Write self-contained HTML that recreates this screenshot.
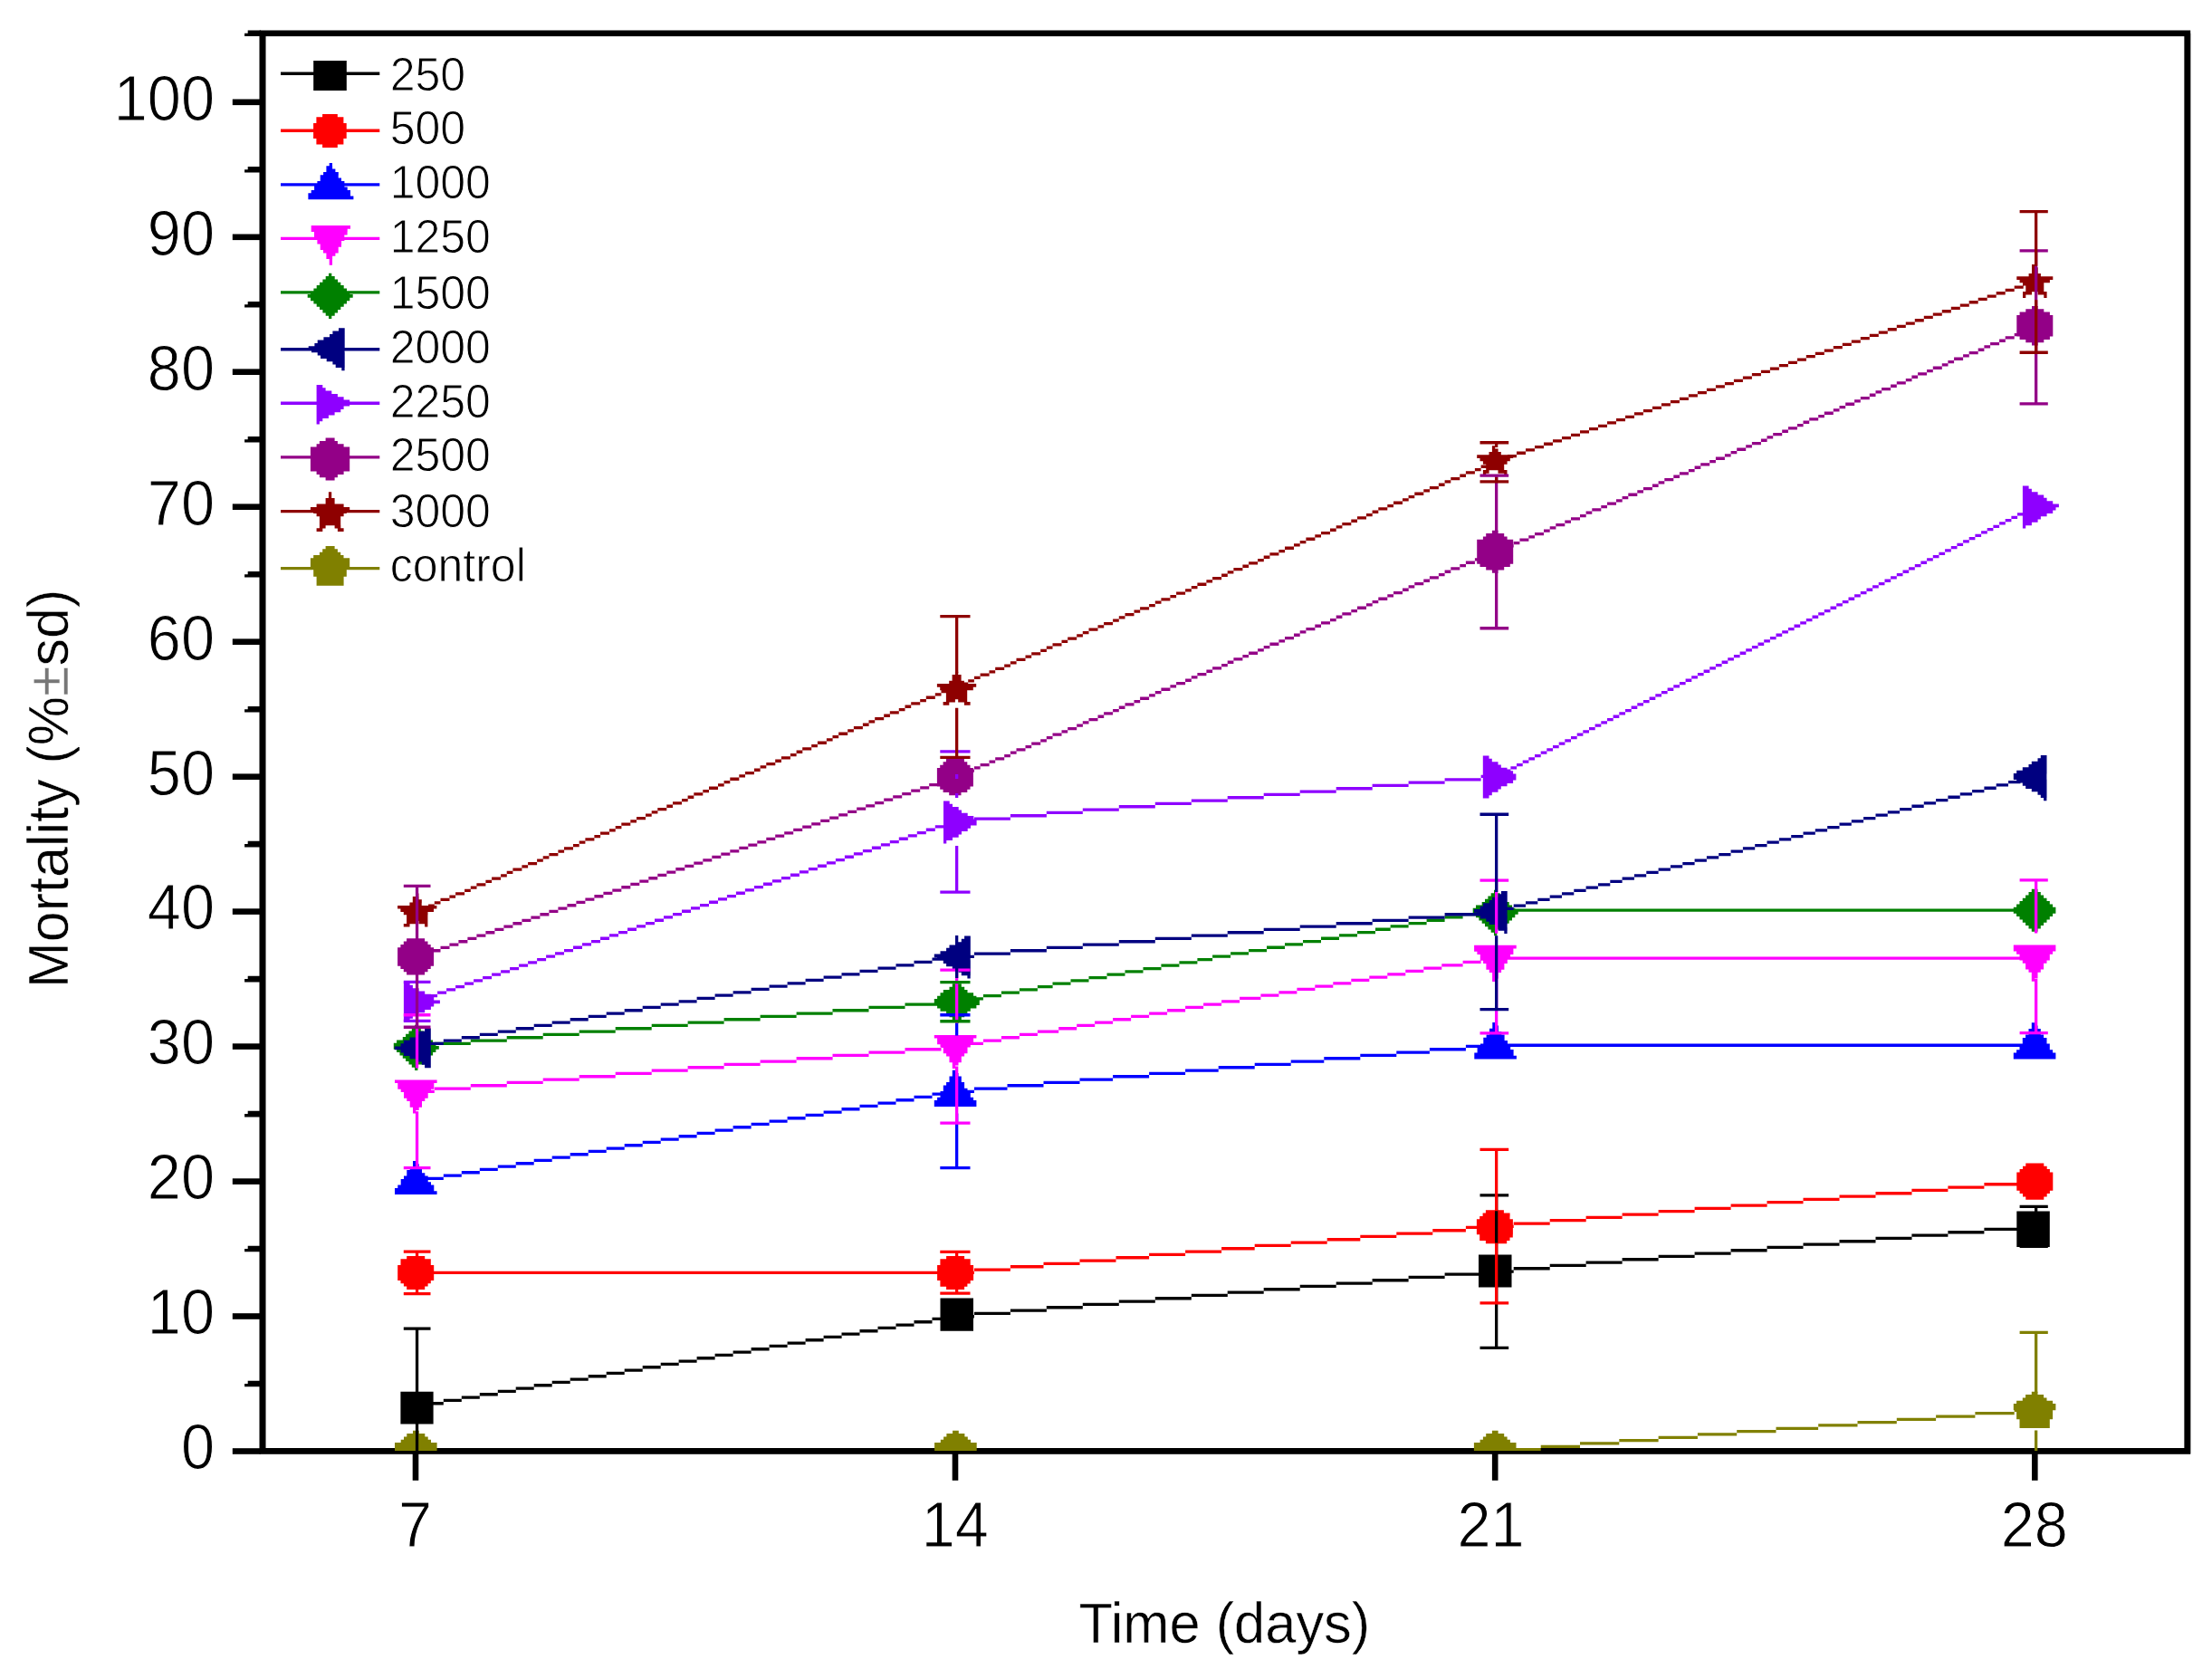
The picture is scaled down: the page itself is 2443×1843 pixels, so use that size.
<!DOCTYPE html><html><head><meta charset="utf-8"><title>Mortality chart</title><style>html,body{margin:0;padding:0;background:#fff}body{width:2443px;height:1843px;overflow:hidden}</style></head><body><svg width="2443" height="1843" viewBox="0 0 2443 1843" style="display:block" font-family="'Liberation Sans', Arial, sans-serif" fill="#000">
<rect width="2443" height="1843" fill="#fff"/>
<defs><clipPath id="pc"><rect x="290.0" y="36.8" width="2125.9" height="1565.5"/></clipPath></defs>
<g id="axes">
<rect x="290.0" y="36.8" width="2125.9" height="1565.5" fill="none" stroke="#000" stroke-width="6.6"/>
<rect x="256.8" y="1599.2" width="31" height="6.6"/>
<rect x="256.8" y="1450.2" width="31" height="6.6"/>
<rect x="256.8" y="1301.3" width="31" height="6.6"/>
<rect x="256.8" y="1152.3" width="31" height="6.6"/>
<rect x="256.8" y="1003.3" width="31" height="6.6"/>
<rect x="256.8" y="854.4" width="31" height="6.6"/>
<rect x="256.8" y="705.4" width="31" height="6.6"/>
<rect x="256.8" y="556.4" width="31" height="6.6"/>
<rect x="256.8" y="407.4" width="31" height="6.6"/>
<rect x="256.8" y="258.5" width="31" height="6.6"/>
<rect x="256.8" y="109.5" width="31" height="6.6"/>
<path d="M270.1 1531.3h18v-6.6h-14.4v3.3h-3.6z"/>
<path d="M270.1 1382.3h18v-6.6h-14.4v3.3h-3.6z"/>
<path d="M270.1 1233.4h18v-6.6h-14.4v3.3h-3.6z"/>
<path d="M270.1 1084.4h18v-6.6h-14.4v3.3h-3.6z"/>
<path d="M270.1 935.4h18v-6.6h-14.4v3.3h-3.6z"/>
<path d="M270.1 786.5h18v-6.6h-14.4v3.3h-3.6z"/>
<path d="M270.1 637.5h18v-6.6h-14.4v3.3h-3.6z"/>
<path d="M270.1 488.5h18v-6.6h-14.4v3.3h-3.6z"/>
<path d="M270.1 339.6h18v-6.6h-14.4v3.3h-3.6z"/>
<path d="M270.1 190.6h18v-6.6h-14.4v3.3h-3.6z"/>
<path d="M270.1 40.1h18v-6.6h-14.4v3.3h-3.6z"/>
<rect x="455.7" y="1604" width="6.6" height="30.8"/>
<rect x="1051.7" y="1604" width="6.6" height="30.8"/>
<rect x="1647.9" y="1604" width="6.6" height="30.8"/>
<rect x="2244.0" y="1604" width="6.6" height="30.8"/>
</g>
<g id="plot" clip-path="url(#pc)">
<path fill="#000000" d="M459.8 1551.4h10.0v3.3h-10.0zM469.8 1548.1h20.0v3.3h-20.0zM489.8 1544.8h20.0v3.3h-20.0zM509.8 1541.4h20.0v3.3h-20.0zM529.8 1538.1h20.0v3.3h-20.0zM549.8 1534.8h20.0v3.3h-20.0zM569.7 1531.4h20.0v3.3h-20.0zM589.7 1528.1h20.0v3.3h-20.0zM609.7 1524.8h20.0v3.3h-20.0zM629.7 1521.4h20.0v3.3h-20.0zM649.7 1518.1h20.0v3.3h-20.0zM669.7 1514.8h20.0v3.3h-20.0zM689.7 1511.4h20.0v3.3h-20.0zM709.7 1508.1h20.0v3.3h-20.0zM729.7 1504.8h20.0v3.3h-20.0zM749.6 1501.5h20.0v3.3h-20.0zM769.6 1498.1h20.0v3.3h-20.0zM789.6 1494.8h20.0v3.3h-20.0zM809.6 1491.5h20.0v3.3h-20.0zM829.6 1488.1h20.0v3.3h-20.0zM849.6 1484.8h20.0v3.3h-20.0zM869.6 1481.5h20.0v3.3h-20.0zM889.6 1478.1h20.0v3.3h-20.0zM909.6 1474.8h20.0v3.3h-20.0zM929.5 1471.5h20.0v3.3h-20.0zM949.5 1468.1h20.0v3.3h-20.0zM969.5 1464.8h20.0v3.3h-20.0zM989.5 1461.5h20.0v3.3h-20.0zM1009.5 1458.1h20.0v3.3h-20.0zM1029.5 1454.8h20.0v3.3h-20.0zM1049.5 1451.5h6.7v3.3h-6.7zM1055.9 1452.1h20.0v3.3h-20.0zM1075.9 1448.7h40.0v3.3h-40.0zM1115.9 1445.4h40.0v3.3h-40.0zM1155.8 1442.1h40.0v3.3h-40.0zM1195.8 1438.7h40.0v3.3h-40.0zM1235.8 1435.4h40.0v3.3h-40.0zM1275.8 1432.1h40.0v3.3h-40.0zM1315.8 1428.7h40.0v3.3h-40.0zM1355.7 1425.4h40.0v3.3h-40.0zM1395.7 1422.1h40.0v3.3h-40.0zM1435.7 1418.7h40.0v3.3h-40.0zM1475.7 1415.4h40.0v3.3h-40.0zM1515.6 1412.1h40.0v3.3h-40.0zM1555.6 1408.8h40.0v3.3h-40.0zM1595.6 1405.4h40.0v3.3h-40.0zM1635.6 1402.1h16.7v3.3h-16.7zM1651.7 1402.5h20.0v3.3h-20.0zM1671.7 1399.1h40.0v3.3h-40.0zM1711.7 1395.8h40.0v3.3h-40.0zM1751.6 1392.5h40.0v3.3h-40.0zM1791.6 1389.1h40.0v3.3h-40.0zM1831.6 1385.8h40.0v3.3h-40.0zM1871.6 1382.5h40.0v3.3h-40.0zM1911.6 1379.1h40.0v3.3h-40.0zM1951.5 1375.8h40.0v3.3h-40.0zM1991.5 1372.5h40.0v3.3h-40.0zM2031.5 1369.1h40.0v3.3h-40.0zM2071.5 1365.8h40.0v3.3h-40.0zM2111.4 1362.5h40.0v3.3h-40.0zM2151.4 1359.1h40.0v3.3h-40.0zM2191.4 1355.8h40.0v3.3h-40.0zM2231.4 1352.5h16.7v3.3h-16.7zM442.4 1536.7h36.2v35.8h-36.2zM1038.5 1433.4h36.5v36.3h-36.5zM1633.0 1385.5h36.5v36.0h-36.5zM2227.3 1337.5h36.5v39.5h-36.5z"/>
<path fill="#ff0000" d="M459.8 1403.8h596.3v3.3h-596.3zM1055.9 1403.8h20.0v3.3h-20.0zM1075.9 1400.4h40.0v3.3h-40.0zM1115.9 1397.1h36.6v3.3h-36.6zM1152.5 1393.8h40.0v3.3h-40.0zM1192.5 1390.4h40.0v3.3h-40.0zM1232.5 1387.1h36.6v3.3h-36.6zM1269.1 1383.8h40.0v3.3h-40.0zM1309.1 1380.4h40.0v3.3h-40.0zM1349.1 1377.1h36.6v3.3h-36.6zM1385.7 1373.8h40.0v3.3h-40.0zM1425.7 1370.4h40.0v3.3h-40.0zM1465.7 1367.1h36.6v3.3h-36.6zM1502.3 1363.8h40.0v3.3h-40.0zM1542.3 1360.4h40.0v3.3h-40.0zM1582.3 1357.1h36.6v3.3h-36.6zM1618.9 1353.8h33.3v3.3h-33.3zM1651.7 1352.7h20.0v3.3h-20.0zM1671.7 1349.4h40.0v3.3h-40.0zM1711.7 1346.0h40.0v3.3h-40.0zM1751.6 1342.7h40.0v3.3h-40.0zM1791.6 1339.4h40.0v3.3h-40.0zM1831.6 1336.0h40.0v3.3h-40.0zM1871.6 1332.7h40.0v3.3h-40.0zM1911.6 1329.4h40.0v3.3h-40.0zM1951.5 1326.0h40.0v3.3h-40.0zM1991.5 1322.7h40.0v3.3h-40.0zM2031.5 1319.4h40.0v3.3h-40.0zM2071.5 1316.1h40.0v3.3h-40.0zM2111.4 1312.7h40.0v3.3h-40.0zM2151.4 1309.4h40.0v3.3h-40.0zM2191.4 1306.1h40.0v3.3h-40.0zM2231.4 1302.7h16.7v3.3h-16.7zM449.2 1386.9h20.0v3.7h-20.0zM442.5 1390.2h33.3v3.7h-33.3zM442.5 1393.6h33.3v3.7h-33.3zM439.2 1396.9h40.0v3.7h-40.0zM439.2 1400.2h40.0v3.7h-40.0zM439.2 1403.6h40.0v3.7h-40.0zM439.2 1406.9h40.0v3.7h-40.0zM439.2 1410.2h40.0v3.7h-40.0zM442.5 1413.6h33.3v3.7h-33.3zM445.9 1416.9h26.7v3.7h-26.7zM449.2 1420.2h20.0v3.7h-20.0zM1045.1 1387.0h20.0v3.7h-20.0zM1038.4 1390.3h33.3v3.7h-33.3zM1038.4 1393.7h33.3v3.7h-33.3zM1035.1 1397.0h40.0v3.7h-40.0zM1035.1 1400.3h40.0v3.7h-40.0zM1035.1 1403.7h40.0v3.7h-40.0zM1035.1 1407.0h40.0v3.7h-40.0zM1035.1 1410.3h40.0v3.7h-40.0zM1038.4 1413.7h33.3v3.7h-33.3zM1038.4 1417.0h30.0v3.7h-30.0zM1045.1 1420.3h20.0v3.7h-20.0zM1640.9 1336.2h20.0v3.7h-20.0zM1637.6 1339.5h30.0v3.7h-30.0zM1634.2 1342.9h33.3v3.7h-33.3zM1630.9 1346.2h40.0v3.7h-40.0zM1630.9 1349.5h40.0v3.7h-40.0zM1630.9 1352.9h40.0v3.7h-40.0zM1630.9 1356.2h40.0v3.7h-40.0zM1630.9 1359.5h40.0v3.7h-40.0zM1634.2 1362.9h36.6v3.7h-36.6zM1634.2 1366.2h33.3v3.7h-33.3zM1640.9 1369.5h23.3v3.7h-23.3zM2237.3 1284.4h20.0v3.7h-20.0zM2234.0 1287.7h26.7v3.7h-26.7zM2230.6 1291.1h33.3v3.7h-33.3zM2227.3 1294.4h40.0v3.7h-40.0zM2227.3 1297.7h40.0v3.7h-40.0zM2227.3 1301.1h40.0v3.7h-40.0zM2227.3 1304.4h40.0v3.7h-40.0zM2227.3 1307.7h40.0v3.7h-40.0zM2227.3 1311.1h40.0v3.7h-40.0zM2230.6 1314.4h33.3v3.7h-33.3zM2234.0 1317.7h26.7v3.7h-26.7zM2237.3 1321.0h20.0v3.7h-20.0z"/>
<path fill="#0000ff" d="M459.8 1303.1h10.0v3.3h-10.0zM469.8 1299.8h20.0v3.3h-20.0zM489.8 1296.4h20.0v3.3h-20.0zM509.8 1293.1h20.0v3.3h-20.0zM529.8 1289.8h20.0v3.3h-20.0zM549.8 1286.4h20.0v3.3h-20.0zM569.7 1283.1h20.0v3.3h-20.0zM589.7 1279.8h20.0v3.3h-20.0zM609.7 1276.4h20.0v3.3h-20.0zM629.7 1273.1h20.0v3.3h-20.0zM649.7 1269.8h20.0v3.3h-20.0zM669.7 1266.4h20.0v3.3h-20.0zM689.7 1263.1h20.0v3.3h-20.0zM709.7 1259.8h20.0v3.3h-20.0zM729.7 1256.5h20.0v3.3h-20.0zM749.6 1253.1h20.0v3.3h-20.0zM769.6 1249.8h20.0v3.3h-20.0zM789.6 1246.5h20.0v3.3h-20.0zM809.6 1243.1h20.0v3.3h-20.0zM829.6 1239.8h20.0v3.3h-20.0zM849.6 1236.5h20.0v3.3h-20.0zM869.6 1233.1h20.0v3.3h-20.0zM889.6 1229.8h20.0v3.3h-20.0zM909.6 1226.5h20.0v3.3h-20.0zM929.5 1223.1h20.0v3.3h-20.0zM949.5 1219.8h20.0v3.3h-20.0zM969.5 1216.5h20.0v3.3h-20.0zM989.5 1213.1h20.0v3.3h-20.0zM1009.5 1209.8h20.0v3.3h-20.0zM1029.5 1206.5h20.0v3.3h-20.0zM1049.5 1203.1h6.7v3.3h-6.7zM1055.9 1203.7h20.0v3.3h-20.0zM1075.9 1200.4h36.6v3.3h-36.6zM1112.5 1197.1h40.0v3.3h-40.0zM1152.5 1193.7h40.0v3.3h-40.0zM1192.5 1190.4h36.6v3.3h-36.6zM1229.1 1187.1h40.0v3.3h-40.0zM1269.1 1183.7h40.0v3.3h-40.0zM1309.1 1180.4h36.6v3.3h-36.6zM1345.7 1177.1h40.0v3.3h-40.0zM1385.7 1173.7h40.0v3.3h-40.0zM1425.7 1170.4h36.6v3.3h-36.6zM1462.3 1167.1h40.0v3.3h-40.0zM1502.3 1163.8h40.0v3.3h-40.0zM1542.3 1160.4h36.6v3.3h-36.6zM1578.9 1157.1h40.0v3.3h-40.0zM1618.9 1153.8h33.3v3.3h-33.3zM1651.7 1152.6h596.3v3.3h-596.3zM456.0 1281.9h3.3v3.7h-3.3zM456.0 1285.2h6.7v3.7h-6.7zM452.7 1288.6h13.3v3.7h-13.3zM449.3 1291.9h16.7v3.7h-16.7zM449.3 1295.2h20.0v3.7h-20.0zM446.0 1298.6h26.7v3.7h-26.7zM442.7 1301.9h30.0v3.7h-30.0zM442.7 1305.2h33.3v3.7h-33.3zM439.3 1308.6h40.0v3.7h-40.0zM436.0 1311.9h43.3v3.7h-43.3zM436.0 1315.2h46.6v3.7h-46.6zM1051.8 1181.7h3.3v3.7h-3.3zM1051.8 1185.0h6.7v3.7h-6.7zM1048.5 1188.4h13.3v3.7h-13.3zM1048.5 1191.7h13.3v3.7h-13.3zM1045.1 1195.0h20.0v3.7h-20.0zM1041.8 1198.4h23.3v3.7h-23.3zM1041.8 1201.7h26.7v3.7h-26.7zM1038.5 1205.0h33.3v3.7h-33.3zM1038.5 1208.4h33.3v3.7h-33.3zM1035.1 1211.7h40.0v3.7h-40.0zM1031.8 1215.0h46.6v3.7h-46.6zM1031.8 1218.3h46.6v3.7h-46.6zM1648.3 1129.1h3.3v3.7h-3.3zM1648.3 1132.4h6.7v3.7h-6.7zM1645.0 1135.8h10.0v3.7h-10.0zM1645.0 1139.1h13.3v3.7h-13.3zM1641.6 1142.4h20.0v3.7h-20.0zM1638.3 1145.8h23.3v3.7h-23.3zM1638.3 1149.1h26.7v3.7h-26.7zM1635.0 1152.4h33.3v3.7h-33.3zM1631.6 1155.8h36.6v3.7h-36.6zM1631.6 1159.1h40.0v3.7h-40.0zM1628.3 1162.4h43.3v3.7h-43.3zM1628.3 1165.7h46.6v3.7h-46.6zM2243.8 1129.2h3.3v3.7h-3.3zM2243.8 1132.5h6.7v3.7h-6.7zM2240.5 1135.9h13.3v3.7h-13.3zM2240.5 1139.2h13.3v3.7h-13.3zM2237.1 1142.5h20.0v3.7h-20.0zM2233.8 1145.9h26.7v3.7h-26.7zM2233.8 1149.2h26.7v3.7h-26.7zM2230.5 1152.5h33.3v3.7h-33.3zM2230.5 1155.9h33.3v3.7h-33.3zM2227.1 1159.2h40.0v3.7h-40.0zM2223.8 1162.5h46.6v3.7h-46.6zM2223.8 1165.8h46.6v3.7h-46.6z"/>
<path fill="#ff00ff" d="M459.8 1203.7h20.0v3.3h-20.0zM479.8 1200.4h40.0v3.3h-40.0zM519.8 1197.1h40.0v3.3h-40.0zM559.7 1193.7h40.0v3.3h-40.0zM599.7 1190.4h40.0v3.3h-40.0zM639.7 1187.1h40.0v3.3h-40.0zM679.7 1183.7h40.0v3.3h-40.0zM719.7 1180.4h40.0v3.3h-40.0zM759.6 1177.1h40.0v3.3h-40.0zM799.6 1173.7h40.0v3.3h-40.0zM839.6 1170.4h40.0v3.3h-40.0zM879.6 1167.1h40.0v3.3h-40.0zM919.5 1163.8h40.0v3.3h-40.0zM959.5 1160.4h40.0v3.3h-40.0zM999.5 1157.1h40.0v3.3h-40.0zM1039.5 1153.8h16.7v3.3h-16.7zM1055.9 1154.1h10.0v3.3h-10.0zM1065.9 1150.8h20.0v3.3h-20.0zM1085.9 1147.5h20.0v3.3h-20.0zM1105.9 1144.1h20.0v3.3h-20.0zM1125.9 1140.8h20.0v3.3h-20.0zM1145.9 1137.5h23.3v3.3h-23.3zM1169.2 1134.1h20.0v3.3h-20.0zM1189.2 1130.8h20.0v3.3h-20.0zM1209.1 1127.5h20.0v3.3h-20.0zM1229.1 1124.1h20.0v3.3h-20.0zM1249.1 1120.8h20.0v3.3h-20.0zM1269.1 1117.5h20.0v3.3h-20.0zM1289.1 1114.1h20.0v3.3h-20.0zM1309.1 1110.8h20.0v3.3h-20.0zM1329.1 1107.5h20.0v3.3h-20.0zM1349.1 1104.2h20.0v3.3h-20.0zM1369.1 1100.8h23.3v3.3h-23.3zM1392.4 1097.5h20.0v3.3h-20.0zM1412.4 1094.2h20.0v3.3h-20.0zM1432.4 1090.8h20.0v3.3h-20.0zM1452.3 1087.5h20.0v3.3h-20.0zM1472.3 1084.2h20.0v3.3h-20.0zM1492.3 1080.8h20.0v3.3h-20.0zM1512.3 1077.5h20.0v3.3h-20.0zM1532.3 1074.2h20.0v3.3h-20.0zM1552.3 1070.8h20.0v3.3h-20.0zM1572.3 1067.5h20.0v3.3h-20.0zM1592.3 1064.2h23.3v3.3h-23.3zM1615.6 1060.8h20.0v3.3h-20.0zM1635.6 1057.5h16.7v3.3h-16.7zM1651.7 1056.4h596.3v3.3h-596.3zM436.0 1192.4h46.6v3.7h-46.6zM439.3 1195.7h40.0v3.7h-40.0zM439.3 1199.1h40.0v3.7h-40.0zM442.7 1202.4h33.3v3.7h-33.3zM446.0 1205.7h26.7v3.7h-26.7zM446.0 1209.1h26.7v3.7h-26.7zM449.3 1212.4h20.0v3.7h-20.0zM452.7 1215.7h13.3v3.7h-13.3zM452.7 1219.1h13.3v3.7h-13.3zM456.0 1222.4h6.7v3.7h-6.7zM456.0 1225.7h3.3v3.7h-3.3zM1031.8 1142.9h46.6v3.7h-46.6zM1035.1 1146.2h40.0v3.7h-40.0zM1035.1 1149.6h40.0v3.7h-40.0zM1038.5 1152.9h33.3v3.7h-33.3zM1041.8 1156.2h26.7v3.7h-26.7zM1041.8 1159.6h26.7v3.7h-26.7zM1045.1 1162.9h20.0v3.7h-20.0zM1048.5 1166.2h13.3v3.7h-13.3zM1048.5 1169.6h13.3v3.7h-13.3zM1051.8 1172.9h6.7v3.7h-6.7zM1051.8 1176.2h3.3v3.7h-3.3zM1628.1 1043.7h46.6v3.7h-46.6zM1628.1 1047.0h43.3v3.7h-43.3zM1631.4 1050.4h40.0v3.7h-40.0zM1634.8 1053.7h33.3v3.7h-33.3zM1634.8 1057.0h30.0v3.7h-30.0zM1638.1 1060.4h26.7v3.7h-26.7zM1641.4 1063.7h20.0v3.7h-20.0zM1641.4 1067.0h20.0v3.7h-20.0zM1644.8 1070.4h13.3v3.7h-13.3zM1648.1 1073.7h6.7v3.7h-6.7zM1648.1 1077.0h6.7v3.7h-6.7zM1648.1 1080.3h3.3v3.7h-3.3zM2223.8 1043.4h46.6v3.7h-46.6zM2223.8 1046.7h46.6v3.7h-46.6zM2227.1 1050.1h40.0v3.7h-40.0zM2230.5 1053.4h33.3v3.7h-33.3zM2230.5 1056.7h33.3v3.7h-33.3zM2233.8 1060.1h26.7v3.7h-26.7zM2237.1 1063.4h20.0v3.7h-20.0zM2237.1 1066.7h20.0v3.7h-20.0zM2240.5 1070.1h13.3v3.7h-13.3zM2243.8 1073.4h6.7v3.7h-6.7zM2243.8 1076.7h6.7v3.7h-6.7zM2243.8 1080.0h3.3v3.7h-3.3z"/>
<path fill="#008000" d="M459.8 1154.1h20.0v3.3h-20.0zM479.8 1150.8h40.0v3.3h-40.0zM519.8 1147.5h40.0v3.3h-40.0zM559.7 1144.1h40.0v3.3h-40.0zM599.7 1140.8h40.0v3.3h-40.0zM639.7 1137.5h40.0v3.3h-40.0zM679.7 1134.1h40.0v3.3h-40.0zM719.7 1130.8h40.0v3.3h-40.0zM759.6 1127.5h40.0v3.3h-40.0zM799.6 1124.1h40.0v3.3h-40.0zM839.6 1120.8h40.0v3.3h-40.0zM879.6 1117.5h40.0v3.3h-40.0zM919.5 1114.1h40.0v3.3h-40.0zM959.5 1110.8h40.0v3.3h-40.0zM999.5 1107.5h40.0v3.3h-40.0zM1039.5 1104.2h16.7v3.3h-16.7zM1055.9 1104.5h10.0v3.3h-10.0zM1065.9 1101.2h20.0v3.3h-20.0zM1085.9 1097.9h20.0v3.3h-20.0zM1105.9 1094.5h20.0v3.3h-20.0zM1125.9 1091.2h20.0v3.3h-20.0zM1145.9 1087.9h16.7v3.3h-16.7zM1162.5 1084.5h20.0v3.3h-20.0zM1182.5 1081.2h20.0v3.3h-20.0zM1202.5 1077.9h20.0v3.3h-20.0zM1222.5 1074.5h20.0v3.3h-20.0zM1242.5 1071.2h20.0v3.3h-20.0zM1262.5 1067.9h20.0v3.3h-20.0zM1282.4 1064.5h20.0v3.3h-20.0zM1302.4 1061.2h20.0v3.3h-20.0zM1322.4 1057.9h16.7v3.3h-16.7zM1339.1 1054.5h20.0v3.3h-20.0zM1359.1 1051.2h20.0v3.3h-20.0zM1379.1 1047.9h20.0v3.3h-20.0zM1399.0 1044.6h20.0v3.3h-20.0zM1419.0 1041.2h20.0v3.3h-20.0zM1439.0 1037.9h20.0v3.3h-20.0zM1459.0 1034.6h20.0v3.3h-20.0zM1479.0 1031.2h20.0v3.3h-20.0zM1499.0 1027.9h20.0v3.3h-20.0zM1519.0 1024.6h16.7v3.3h-16.7zM1535.6 1021.2h20.0v3.3h-20.0zM1555.6 1017.9h20.0v3.3h-20.0zM1575.6 1014.6h20.0v3.3h-20.0zM1595.6 1011.2h20.0v3.3h-20.0zM1615.6 1007.9h20.0v3.3h-20.0zM1635.6 1004.6h16.7v3.3h-16.7zM1651.7 1003.5h596.3v3.3h-596.3zM458.1 1131.8h3.3v3.7h-3.3zM454.8 1135.1h10.0v3.7h-10.0zM451.5 1138.5h16.7v3.7h-16.7zM448.1 1141.8h23.3v3.7h-23.3zM444.8 1145.1h30.0v3.7h-30.0zM438.1 1148.4h40.0v3.7h-40.0zM434.8 1151.8h46.6v3.7h-46.6zM434.8 1155.1h50.0v3.7h-50.0zM438.1 1158.4h43.3v3.7h-43.3zM441.5 1161.8h36.6v3.7h-36.6zM444.8 1165.1h30.0v3.7h-30.0zM448.1 1168.4h23.3v3.7h-23.3zM451.5 1171.8h16.7v3.7h-16.7zM454.8 1175.1h6.7v3.7h-6.7zM458.1 1178.4h3.3v3.7h-3.3zM1055.1 1083.0h3.3v3.7h-3.3zM1051.8 1086.3h10.0v3.7h-10.0zM1048.5 1089.7h16.7v3.7h-16.7zM1041.8 1093.0h26.7v3.7h-26.7zM1038.5 1096.3h36.6v3.7h-36.6zM1035.1 1099.7h43.3v3.7h-43.3zM1031.8 1103.0h50.0v3.7h-50.0zM1031.8 1106.3h50.0v3.7h-50.0zM1035.1 1109.7h43.3v3.7h-43.3zM1038.5 1113.0h33.3v3.7h-33.3zM1045.1 1116.3h23.3v3.7h-23.3zM1048.5 1119.6h16.7v3.7h-16.7zM1051.8 1123.0h10.0v3.7h-10.0zM1055.1 1126.3h3.3v3.7h-3.3zM1650.0 982.8h3.3v3.7h-3.3zM1646.7 986.2h10.0v3.7h-10.0zM1643.4 989.5h16.7v3.7h-16.7zM1640.0 992.8h23.3v3.7h-23.3zM1636.7 996.1h30.0v3.7h-30.0zM1630.0 999.5h40.0v3.7h-40.0zM1626.7 1002.8h46.6v3.7h-46.6zM1626.7 1006.1h50.0v3.7h-50.0zM1630.0 1009.5h43.3v3.7h-43.3zM1633.4 1012.8h36.6v3.7h-36.6zM1636.7 1016.1h30.0v3.7h-30.0zM1640.0 1019.5h23.3v3.7h-23.3zM1643.4 1022.8h16.7v3.7h-16.7zM1646.7 1026.1h6.7v3.7h-6.7zM1650.0 1029.5h3.3v3.7h-3.3zM2243.8 981.7h6.7v3.7h-6.7zM2240.5 985.0h13.3v3.7h-13.3zM2237.1 988.4h20.0v3.7h-20.0zM2233.8 991.7h26.7v3.7h-26.7zM2230.5 995.0h33.3v3.7h-33.3zM2227.1 998.4h40.0v3.7h-40.0zM2223.8 1001.7h46.6v3.7h-46.6zM2223.8 1005.0h46.6v3.7h-46.6zM2227.1 1008.4h40.0v3.7h-40.0zM2230.5 1011.7h33.3v3.7h-33.3zM2233.8 1015.0h26.7v3.7h-26.7zM2237.1 1018.3h20.0v3.7h-20.0zM2240.5 1021.7h13.3v3.7h-13.3zM2243.8 1025.0h6.7v3.7h-6.7z"/>
<path fill="#000080" d="M459.8 1154.1h10.0v3.3h-10.0zM469.8 1150.8h20.0v3.3h-20.0zM489.8 1147.5h20.0v3.3h-20.0zM509.8 1144.1h20.0v3.3h-20.0zM529.8 1140.8h20.0v3.3h-20.0zM549.8 1137.5h20.0v3.3h-20.0zM569.7 1134.1h20.0v3.3h-20.0zM589.7 1130.8h20.0v3.3h-20.0zM609.7 1127.5h20.0v3.3h-20.0zM629.7 1124.1h20.0v3.3h-20.0zM649.7 1120.8h20.0v3.3h-20.0zM669.7 1117.5h20.0v3.3h-20.0zM689.7 1114.1h20.0v3.3h-20.0zM709.7 1110.8h20.0v3.3h-20.0zM729.7 1107.5h20.0v3.3h-20.0zM749.6 1104.2h20.0v3.3h-20.0zM769.6 1100.8h20.0v3.3h-20.0zM789.6 1097.5h20.0v3.3h-20.0zM809.6 1094.2h20.0v3.3h-20.0zM829.6 1090.8h20.0v3.3h-20.0zM849.6 1087.5h20.0v3.3h-20.0zM869.6 1084.2h20.0v3.3h-20.0zM889.6 1080.8h20.0v3.3h-20.0zM909.6 1077.5h20.0v3.3h-20.0zM929.5 1074.2h20.0v3.3h-20.0zM949.5 1070.8h20.0v3.3h-20.0zM969.5 1067.5h20.0v3.3h-20.0zM989.5 1064.2h20.0v3.3h-20.0zM1009.5 1060.8h20.0v3.3h-20.0zM1029.5 1057.5h20.0v3.3h-20.0zM1049.5 1054.2h6.7v3.3h-6.7zM1055.9 1054.8h20.0v3.3h-20.0zM1075.9 1051.4h40.0v3.3h-40.0zM1115.9 1048.1h40.0v3.3h-40.0zM1155.8 1044.8h40.0v3.3h-40.0zM1195.8 1041.4h40.0v3.3h-40.0zM1235.8 1038.1h40.0v3.3h-40.0zM1275.8 1034.8h40.0v3.3h-40.0zM1315.8 1031.4h40.0v3.3h-40.0zM1355.7 1028.1h40.0v3.3h-40.0zM1395.7 1024.8h40.0v3.3h-40.0zM1435.7 1021.4h40.0v3.3h-40.0zM1475.7 1018.1h40.0v3.3h-40.0zM1515.6 1014.8h40.0v3.3h-40.0zM1555.6 1011.5h40.0v3.3h-40.0zM1595.6 1008.1h40.0v3.3h-40.0zM1635.6 1004.8h16.7v3.3h-16.7zM1651.7 1005.2h6.7v3.3h-6.7zM1658.4 1001.8h13.3v3.3h-13.3zM1671.7 998.5h13.3v3.3h-13.3zM1685.0 995.2h13.3v3.3h-13.3zM1698.3 991.8h13.3v3.3h-13.3zM1711.7 988.5h13.3v3.3h-13.3zM1725.0 985.2h13.3v3.3h-13.3zM1738.3 981.8h13.3v3.3h-13.3zM1751.6 978.5h13.3v3.3h-13.3zM1765.0 975.2h13.3v3.3h-13.3zM1778.3 971.8h13.3v3.3h-13.3zM1791.6 968.5h13.3v3.3h-13.3zM1804.9 965.2h13.3v3.3h-13.3zM1818.3 961.8h13.3v3.3h-13.3zM1831.6 958.5h13.3v3.3h-13.3zM1844.9 955.2h13.3v3.3h-13.3zM1858.3 951.9h13.3v3.3h-13.3zM1871.6 948.5h13.3v3.3h-13.3zM1884.9 945.2h13.3v3.3h-13.3zM1898.2 941.9h13.3v3.3h-13.3zM1911.6 938.5h13.3v3.3h-13.3zM1924.9 935.2h13.3v3.3h-13.3zM1938.2 931.9h13.3v3.3h-13.3zM1951.5 928.5h13.3v3.3h-13.3zM1964.9 925.2h13.3v3.3h-13.3zM1978.2 921.9h13.3v3.3h-13.3zM1991.5 918.5h13.3v3.3h-13.3zM2004.8 915.2h13.3v3.3h-13.3zM2018.2 911.9h13.3v3.3h-13.3zM2031.5 908.5h13.3v3.3h-13.3zM2044.8 905.2h13.3v3.3h-13.3zM2058.1 901.9h13.3v3.3h-13.3zM2071.5 898.5h13.3v3.3h-13.3zM2084.8 895.2h13.3v3.3h-13.3zM2098.1 891.9h13.3v3.3h-13.3zM2111.4 888.6h13.3v3.3h-13.3zM2124.8 885.2h13.3v3.3h-13.3zM2138.1 881.9h13.3v3.3h-13.3zM2151.4 878.6h13.3v3.3h-13.3zM2164.8 875.2h13.3v3.3h-13.3zM2178.1 871.9h13.3v3.3h-13.3zM2191.4 868.6h13.3v3.3h-13.3zM2204.7 865.2h13.3v3.3h-13.3zM2218.1 861.9h13.3v3.3h-13.3zM2231.4 858.6h13.3v3.3h-13.3zM2244.7 855.2h3.3v3.3h-3.3zM469.1 1135.5h6.7v3.7h-6.7zM462.5 1138.8h13.3v3.7h-13.3zM459.1 1142.2h16.7v3.7h-16.7zM452.5 1145.5h23.3v3.7h-23.3zM445.8 1148.8h30.0v3.7h-30.0zM442.5 1152.2h33.3v3.7h-33.3zM435.8 1155.5h40.0v3.7h-40.0zM442.5 1158.8h33.3v3.7h-33.3zM445.8 1162.2h30.0v3.7h-30.0zM452.5 1165.5h23.3v3.7h-23.3zM459.1 1168.8h16.7v3.7h-16.7zM465.8 1172.1h10.0v3.7h-10.0zM469.1 1175.5h6.7v3.7h-6.7zM1065.1 1033.5h6.7v3.7h-6.7zM1061.8 1036.8h10.0v3.7h-10.0zM1055.1 1040.2h16.7v3.7h-16.7zM1048.5 1043.5h23.3v3.7h-23.3zM1045.1 1046.8h26.7v3.7h-26.7zM1038.5 1050.2h33.3v3.7h-33.3zM1031.8 1053.5h40.0v3.7h-40.0zM1035.1 1056.8h36.6v3.7h-36.6zM1041.8 1060.2h30.0v3.7h-30.0zM1045.1 1063.5h26.7v3.7h-26.7zM1051.8 1066.8h20.0v3.7h-20.0zM1058.5 1070.1h13.3v3.7h-13.3zM1061.8 1073.5h10.0v3.7h-10.0zM1068.4 1076.8h3.3v3.7h-3.3zM1658.0 984.0h6.7v3.7h-6.7zM1654.7 987.3h10.0v3.7h-10.0zM1648.0 990.7h16.7v3.7h-16.7zM1644.7 994.0h20.0v3.7h-20.0zM1638.0 997.3h26.7v3.7h-26.7zM1634.7 1000.7h30.0v3.7h-30.0zM1628.0 1004.0h36.6v3.7h-36.6zM1631.3 1007.3h33.3v3.7h-33.3zM1634.7 1010.7h30.0v3.7h-30.0zM1641.3 1014.0h23.3v3.7h-23.3zM1644.7 1017.3h20.0v3.7h-20.0zM1651.3 1020.6h13.3v3.7h-13.3zM1654.7 1024.0h10.0v3.7h-10.0zM1661.3 1027.3h3.3v3.7h-3.3zM2253.8 834.0h6.7v3.7h-6.7zM2250.5 837.3h10.0v3.7h-10.0zM2243.8 840.7h16.7v3.7h-16.7zM2240.5 844.0h20.0v3.7h-20.0zM2233.8 847.3h26.7v3.7h-26.7zM2227.2 850.7h33.3v3.7h-33.3zM2223.8 854.0h36.6v3.7h-36.6zM2223.8 857.3h36.6v3.7h-36.6zM2227.2 860.7h33.3v3.7h-33.3zM2233.8 864.0h26.7v3.7h-26.7zM2237.2 867.3h23.3v3.7h-23.3zM2243.8 870.6h16.7v3.7h-16.7zM2250.5 874.0h10.0v3.7h-10.0zM2253.8 877.3h6.7v3.7h-6.7zM2257.1 880.6h3.3v3.7h-3.3z"/>
<path fill="#8e00ff" d="M459.8 1104.5h3.3v3.3h-3.3zM463.1 1101.2h10.0v3.3h-10.0zM473.1 1097.9h10.0v3.3h-10.0zM483.1 1094.5h10.0v3.3h-10.0zM493.1 1091.2h10.0v3.3h-10.0zM503.1 1087.9h10.0v3.3h-10.0zM513.1 1084.5h10.0v3.3h-10.0zM523.1 1081.2h10.0v3.3h-10.0zM533.1 1077.9h10.0v3.3h-10.0zM543.1 1074.5h10.0v3.3h-10.0zM553.1 1071.2h10.0v3.3h-10.0zM563.1 1067.9h10.0v3.3h-10.0zM573.1 1064.5h10.0v3.3h-10.0zM583.1 1061.2h10.0v3.3h-10.0zM593.1 1057.9h10.0v3.3h-10.0zM603.1 1054.5h10.0v3.3h-10.0zM613.0 1051.2h10.0v3.3h-10.0zM623.0 1047.9h10.0v3.3h-10.0zM633.0 1044.6h10.0v3.3h-10.0zM643.0 1041.2h10.0v3.3h-10.0zM653.0 1037.9h10.0v3.3h-10.0zM663.0 1034.6h10.0v3.3h-10.0zM673.0 1031.2h10.0v3.3h-10.0zM683.0 1027.9h10.0v3.3h-10.0zM693.0 1024.6h10.0v3.3h-10.0zM703.0 1021.2h10.0v3.3h-10.0zM713.0 1017.9h10.0v3.3h-10.0zM723.0 1014.6h10.0v3.3h-10.0zM733.0 1011.2h10.0v3.3h-10.0zM743.0 1007.9h10.0v3.3h-10.0zM753.0 1004.6h10.0v3.3h-10.0zM763.0 1001.2h10.0v3.3h-10.0zM773.0 997.9h10.0v3.3h-10.0zM783.0 994.6h10.0v3.3h-10.0zM793.0 991.2h10.0v3.3h-10.0zM802.9 987.9h10.0v3.3h-10.0zM812.9 984.6h10.0v3.3h-10.0zM822.9 981.3h10.0v3.3h-10.0zM832.9 977.9h10.0v3.3h-10.0zM842.9 974.6h10.0v3.3h-10.0zM852.9 971.3h10.0v3.3h-10.0zM862.9 967.9h10.0v3.3h-10.0zM872.9 964.6h10.0v3.3h-10.0zM882.9 961.3h10.0v3.3h-10.0zM892.9 957.9h10.0v3.3h-10.0zM902.9 954.6h10.0v3.3h-10.0zM912.9 951.3h10.0v3.3h-10.0zM922.9 947.9h10.0v3.3h-10.0zM932.9 944.6h10.0v3.3h-10.0zM942.9 941.3h10.0v3.3h-10.0zM952.9 937.9h10.0v3.3h-10.0zM962.9 934.6h10.0v3.3h-10.0zM972.9 931.3h10.0v3.3h-10.0zM982.8 927.9h10.0v3.3h-10.0zM992.8 924.6h10.0v3.3h-10.0zM1002.8 921.3h10.0v3.3h-10.0zM1012.8 918.0h10.0v3.3h-10.0zM1022.8 914.6h10.0v3.3h-10.0zM1032.8 911.3h10.0v3.3h-10.0zM1042.8 908.0h10.0v3.3h-10.0zM1052.8 904.6h3.3v3.3h-3.3zM1055.9 905.8h20.0v3.3h-20.0zM1075.9 902.5h40.0v3.3h-40.0zM1115.9 899.1h40.0v3.3h-40.0zM1155.8 895.8h40.0v3.3h-40.0zM1195.8 892.5h40.0v3.3h-40.0zM1235.8 889.1h40.0v3.3h-40.0zM1275.8 885.8h40.0v3.3h-40.0zM1315.8 882.5h40.0v3.3h-40.0zM1355.7 879.1h40.0v3.3h-40.0zM1395.7 875.8h40.0v3.3h-40.0zM1435.7 872.5h40.0v3.3h-40.0zM1475.7 869.1h40.0v3.3h-40.0zM1515.6 865.8h40.0v3.3h-40.0zM1555.6 862.5h40.0v3.3h-40.0zM1595.6 859.2h40.0v3.3h-40.0zM1635.6 855.8h16.7v3.3h-16.7zM1651.7 856.2h3.3v3.3h-3.3zM1655.0 852.9h6.7v3.3h-6.7zM1661.7 849.5h6.7v3.3h-6.7zM1668.4 846.2h6.7v3.3h-6.7zM1675.0 842.9h6.7v3.3h-6.7zM1681.7 839.5h6.7v3.3h-6.7zM1688.3 836.2h6.7v3.3h-6.7zM1695.0 832.9h6.7v3.3h-6.7zM1701.7 829.5h6.7v3.3h-6.7zM1708.3 826.2h6.7v3.3h-6.7zM1715.0 822.9h6.7v3.3h-6.7zM1721.7 819.5h6.7v3.3h-6.7zM1728.3 816.2h6.7v3.3h-6.7zM1735.0 812.9h6.7v3.3h-6.7zM1741.7 809.5h6.7v3.3h-6.7zM1748.3 806.2h6.7v3.3h-6.7zM1755.0 802.9h6.7v3.3h-6.7zM1761.6 799.5h6.7v3.3h-6.7zM1768.3 796.2h6.7v3.3h-6.7zM1775.0 792.9h6.7v3.3h-6.7zM1781.6 789.6h6.7v3.3h-6.7zM1788.3 786.2h6.7v3.3h-6.7zM1795.0 782.9h6.7v3.3h-6.7zM1801.6 779.6h6.7v3.3h-6.7zM1808.3 776.2h6.7v3.3h-6.7zM1814.9 772.9h6.7v3.3h-6.7zM1821.6 769.6h6.7v3.3h-6.7zM1828.3 766.2h6.7v3.3h-6.7zM1834.9 762.9h6.7v3.3h-6.7zM1841.6 759.6h6.7v3.3h-6.7zM1848.3 756.2h6.7v3.3h-6.7zM1854.9 752.9h6.7v3.3h-6.7zM1861.6 749.6h6.7v3.3h-6.7zM1868.2 746.2h6.7v3.3h-6.7zM1874.9 742.9h6.7v3.3h-6.7zM1881.6 739.6h6.7v3.3h-6.7zM1888.2 736.3h6.7v3.3h-6.7zM1894.9 732.9h6.7v3.3h-6.7zM1901.6 729.6h6.7v3.3h-6.7zM1908.2 726.3h6.7v3.3h-6.7zM1914.9 722.9h6.7v3.3h-6.7zM1921.6 719.6h6.7v3.3h-6.7zM1928.2 716.3h6.7v3.3h-6.7zM1934.9 712.9h6.7v3.3h-6.7zM1941.5 709.6h6.7v3.3h-6.7zM1948.2 706.3h6.7v3.3h-6.7zM1954.9 702.9h6.7v3.3h-6.7zM1961.5 699.6h6.7v3.3h-6.7zM1968.2 696.3h6.7v3.3h-6.7zM1974.9 692.9h6.7v3.3h-6.7zM1981.5 689.6h6.7v3.3h-6.7zM1988.2 686.3h6.7v3.3h-6.7zM1994.8 682.9h6.7v3.3h-6.7zM2001.5 679.6h6.7v3.3h-6.7zM2008.2 676.3h6.7v3.3h-6.7zM2014.8 673.0h6.7v3.3h-6.7zM2021.5 669.6h6.7v3.3h-6.7zM2028.2 666.3h6.7v3.3h-6.7zM2034.8 663.0h6.7v3.3h-6.7zM2041.5 659.6h6.7v3.3h-6.7zM2048.1 656.3h6.7v3.3h-6.7zM2054.8 653.0h6.7v3.3h-6.7zM2061.5 649.6h6.7v3.3h-6.7zM2068.1 646.3h6.7v3.3h-6.7zM2074.8 643.0h6.7v3.3h-6.7zM2081.5 639.6h6.7v3.3h-6.7zM2088.1 636.3h6.7v3.3h-6.7zM2094.8 633.0h6.7v3.3h-6.7zM2101.5 629.6h6.7v3.3h-6.7zM2108.1 626.3h6.7v3.3h-6.7zM2114.8 623.0h6.7v3.3h-6.7zM2121.4 619.6h6.7v3.3h-6.7zM2128.1 616.3h6.7v3.3h-6.7zM2134.8 613.0h6.7v3.3h-6.7zM2141.4 609.7h6.7v3.3h-6.7zM2148.1 606.3h6.7v3.3h-6.7zM2154.8 603.0h6.7v3.3h-6.7zM2161.4 599.7h6.7v3.3h-6.7zM2168.1 596.3h6.7v3.3h-6.7zM2174.7 593.0h6.7v3.3h-6.7zM2181.4 589.7h6.7v3.3h-6.7zM2188.1 586.3h6.7v3.3h-6.7zM2194.7 583.0h6.7v3.3h-6.7zM2201.4 579.7h6.7v3.3h-6.7zM2208.1 576.3h6.7v3.3h-6.7zM2214.7 573.0h6.7v3.3h-6.7zM2221.4 569.7h6.7v3.3h-6.7zM2228.0 566.3h6.7v3.3h-6.7zM2234.7 563.0h6.7v3.3h-6.7zM2241.4 559.7h6.7v3.3h-6.7zM445.9 1084.5h6.7v3.7h-6.7zM445.9 1087.8h10.0v3.7h-10.0zM445.9 1091.2h16.7v3.7h-16.7zM445.9 1094.5h23.3v3.7h-23.3zM445.9 1097.8h30.0v3.7h-30.0zM445.9 1101.2h33.3v3.7h-33.3zM445.9 1104.5h40.0v3.7h-40.0zM445.9 1107.8h33.3v3.7h-33.3zM445.9 1111.2h30.0v3.7h-30.0zM445.9 1114.5h23.3v3.7h-23.3zM445.9 1117.8h16.7v3.7h-16.7zM445.9 1121.1h10.0v3.7h-10.0zM445.9 1124.5h6.7v3.7h-6.7zM1042.0 884.4h6.7v3.7h-6.7zM1042.0 887.7h10.0v3.7h-10.0zM1042.0 891.1h16.7v3.7h-16.7zM1042.0 894.4h20.0v3.7h-20.0zM1042.0 897.7h26.7v3.7h-26.7zM1042.0 901.1h33.3v3.7h-33.3zM1042.0 904.4h36.6v3.7h-36.6zM1042.0 907.7h36.6v3.7h-36.6zM1042.0 911.1h30.0v3.7h-30.0zM1042.0 914.4h26.7v3.7h-26.7zM1042.0 917.7h20.0v3.7h-20.0zM1042.0 921.0h16.7v3.7h-16.7zM1042.0 924.4h10.0v3.7h-10.0zM1042.0 927.7h3.3v3.7h-3.3zM1637.8 834.5h6.7v3.7h-6.7zM1637.8 837.8h10.0v3.7h-10.0zM1637.8 841.2h16.7v3.7h-16.7zM1637.8 844.5h20.0v3.7h-20.0zM1637.8 847.8h26.7v3.7h-26.7zM1637.8 851.2h33.3v3.7h-33.3zM1637.8 854.5h36.6v3.7h-36.6zM1637.8 857.8h36.6v3.7h-36.6zM1637.8 861.2h33.3v3.7h-33.3zM1637.8 864.5h26.7v3.7h-26.7zM1637.8 867.8h20.0v3.7h-20.0zM1637.8 871.1h16.7v3.7h-16.7zM1637.8 874.5h10.0v3.7h-10.0zM1637.8 877.8h6.7v3.7h-6.7zM2233.9 536.5h6.7v3.7h-6.7zM2233.9 539.8h10.0v3.7h-10.0zM2233.9 543.2h16.7v3.7h-16.7zM2233.9 546.5h23.3v3.7h-23.3zM2233.9 549.8h26.7v3.7h-26.7zM2233.9 553.2h33.3v3.7h-33.3zM2233.9 556.5h40.0v3.7h-40.0zM2233.9 559.8h36.6v3.7h-36.6zM2233.9 563.2h33.3v3.7h-33.3zM2233.9 566.5h26.7v3.7h-26.7zM2233.9 569.8h20.0v3.7h-20.0zM2233.9 573.1h16.7v3.7h-16.7zM2233.9 576.5h10.0v3.7h-10.0zM2233.9 579.8h3.3v3.7h-3.3z"/>
<path fill="#930087" d="M459.8 1054.8h6.7v3.3h-6.7zM466.5 1051.4h10.0v3.3h-10.0zM476.5 1048.1h10.0v3.3h-10.0zM486.5 1044.8h10.0v3.3h-10.0zM496.4 1041.4h10.0v3.3h-10.0zM506.4 1038.1h10.0v3.3h-10.0zM516.4 1034.8h10.0v3.3h-10.0zM526.4 1031.4h10.0v3.3h-10.0zM536.4 1028.1h10.0v3.3h-10.0zM546.4 1024.8h10.0v3.3h-10.0zM556.4 1021.4h10.0v3.3h-10.0zM566.4 1018.1h10.0v3.3h-10.0zM576.4 1014.8h10.0v3.3h-10.0zM586.4 1011.5h10.0v3.3h-10.0zM596.4 1008.1h10.0v3.3h-10.0zM606.4 1004.8h10.0v3.3h-10.0zM616.4 1001.5h10.0v3.3h-10.0zM626.4 998.1h10.0v3.3h-10.0zM636.4 994.8h10.0v3.3h-10.0zM646.4 991.5h10.0v3.3h-10.0zM656.4 988.1h10.0v3.3h-10.0zM666.4 984.8h10.0v3.3h-10.0zM676.3 981.5h10.0v3.3h-10.0zM686.3 978.1h10.0v3.3h-10.0zM696.3 974.8h10.0v3.3h-10.0zM706.3 971.5h10.0v3.3h-10.0zM716.3 968.1h10.0v3.3h-10.0zM726.3 964.8h10.0v3.3h-10.0zM736.3 961.5h10.0v3.3h-10.0zM746.3 958.1h10.0v3.3h-10.0zM756.3 954.8h10.0v3.3h-10.0zM766.3 951.5h10.0v3.3h-10.0zM776.3 948.2h10.0v3.3h-10.0zM786.3 944.8h10.0v3.3h-10.0zM796.3 941.5h10.0v3.3h-10.0zM806.3 938.2h10.0v3.3h-10.0zM816.3 934.8h10.0v3.3h-10.0zM826.3 931.5h10.0v3.3h-10.0zM836.3 928.2h10.0v3.3h-10.0zM846.3 924.8h10.0v3.3h-10.0zM856.2 921.5h10.0v3.3h-10.0zM866.2 918.2h10.0v3.3h-10.0zM876.2 914.8h10.0v3.3h-10.0zM886.2 911.5h10.0v3.3h-10.0zM896.2 908.2h10.0v3.3h-10.0zM906.2 904.8h10.0v3.3h-10.0zM916.2 901.5h10.0v3.3h-10.0zM926.2 898.2h10.0v3.3h-10.0zM936.2 894.8h10.0v3.3h-10.0zM946.2 891.5h10.0v3.3h-10.0zM956.2 888.2h10.0v3.3h-10.0zM966.2 884.9h10.0v3.3h-10.0zM976.2 881.5h10.0v3.3h-10.0zM986.2 878.2h10.0v3.3h-10.0zM996.2 874.9h10.0v3.3h-10.0zM1006.2 871.5h10.0v3.3h-10.0zM1016.2 868.2h10.0v3.3h-10.0zM1026.2 864.9h10.0v3.3h-10.0zM1036.1 861.5h10.0v3.3h-10.0zM1046.1 858.2h10.0v3.3h-10.0zM1055.9 856.2h3.3v3.3h-3.3zM1059.2 852.9h10.0v3.3h-10.0zM1069.2 849.5h6.7v3.3h-6.7zM1075.9 846.2h6.7v3.3h-6.7zM1082.6 842.9h10.0v3.3h-10.0zM1092.5 839.5h6.7v3.3h-6.7zM1099.2 836.2h10.0v3.3h-10.0zM1109.2 832.9h6.7v3.3h-6.7zM1115.9 829.5h6.7v3.3h-6.7zM1122.5 826.2h10.0v3.3h-10.0zM1132.5 822.9h6.7v3.3h-6.7zM1139.2 819.5h10.0v3.3h-10.0zM1149.2 816.2h6.7v3.3h-6.7zM1155.8 812.9h6.7v3.3h-6.7zM1162.5 809.5h10.0v3.3h-10.0zM1172.5 806.2h6.7v3.3h-6.7zM1179.2 802.9h10.0v3.3h-10.0zM1189.2 799.5h6.7v3.3h-6.7zM1195.8 796.2h6.7v3.3h-6.7zM1202.5 792.9h10.0v3.3h-10.0zM1212.5 789.6h6.7v3.3h-6.7zM1219.1 786.2h10.0v3.3h-10.0zM1229.1 782.9h6.7v3.3h-6.7zM1235.8 779.6h6.7v3.3h-6.7zM1242.5 776.2h10.0v3.3h-10.0zM1252.5 772.9h6.7v3.3h-6.7zM1259.1 769.6h10.0v3.3h-10.0zM1269.1 766.2h6.7v3.3h-6.7zM1275.8 762.9h6.7v3.3h-6.7zM1282.4 759.6h10.0v3.3h-10.0zM1292.4 756.2h6.7v3.3h-6.7zM1299.1 752.9h10.0v3.3h-10.0zM1309.1 749.6h6.7v3.3h-6.7zM1315.8 746.2h6.7v3.3h-6.7zM1322.4 742.9h10.0v3.3h-10.0zM1332.4 739.6h6.7v3.3h-6.7zM1339.1 736.3h10.0v3.3h-10.0zM1349.1 732.9h6.7v3.3h-6.7zM1355.7 729.6h6.7v3.3h-6.7zM1362.4 726.3h10.0v3.3h-10.0zM1372.4 722.9h6.7v3.3h-6.7zM1379.1 719.6h10.0v3.3h-10.0zM1389.1 716.3h6.7v3.3h-6.7zM1395.7 712.9h6.7v3.3h-6.7zM1402.4 709.6h10.0v3.3h-10.0zM1412.4 706.3h6.7v3.3h-6.7zM1419.0 702.9h10.0v3.3h-10.0zM1429.0 699.6h6.7v3.3h-6.7zM1435.7 696.3h6.7v3.3h-6.7zM1442.4 692.9h10.0v3.3h-10.0zM1452.3 689.6h6.7v3.3h-6.7zM1459.0 686.3h10.0v3.3h-10.0zM1469.0 682.9h6.7v3.3h-6.7zM1475.7 679.6h6.7v3.3h-6.7zM1482.3 676.3h10.0v3.3h-10.0zM1492.3 673.0h6.7v3.3h-6.7zM1499.0 669.6h10.0v3.3h-10.0zM1509.0 666.3h6.7v3.3h-6.7zM1515.6 663.0h6.7v3.3h-6.7zM1522.3 659.6h10.0v3.3h-10.0zM1532.3 656.3h6.7v3.3h-6.7zM1539.0 653.0h10.0v3.3h-10.0zM1549.0 649.6h6.7v3.3h-6.7zM1555.6 646.3h6.7v3.3h-6.7zM1562.3 643.0h10.0v3.3h-10.0zM1572.3 639.6h6.7v3.3h-6.7zM1578.9 636.3h10.0v3.3h-10.0zM1588.9 633.0h6.7v3.3h-6.7zM1595.6 629.6h6.7v3.3h-6.7zM1602.3 626.3h10.0v3.3h-10.0zM1612.3 623.0h6.7v3.3h-6.7zM1618.9 619.6h10.0v3.3h-10.0zM1628.9 616.3h6.7v3.3h-6.7zM1635.6 613.0h6.7v3.3h-6.7zM1642.2 609.7h10.0v3.3h-10.0zM1651.7 607.9h3.3v3.3h-3.3zM1655.0 604.5h10.0v3.3h-10.0zM1665.0 601.2h6.7v3.3h-6.7zM1671.7 597.9h6.7v3.3h-6.7zM1678.4 594.5h10.0v3.3h-10.0zM1688.3 591.2h6.7v3.3h-6.7zM1695.0 587.9h10.0v3.3h-10.0zM1705.0 584.5h6.7v3.3h-6.7zM1711.7 581.2h6.7v3.3h-6.7zM1718.3 577.9h10.0v3.3h-10.0zM1728.3 574.5h6.7v3.3h-6.7zM1735.0 571.2h10.0v3.3h-10.0zM1745.0 567.9h6.7v3.3h-6.7zM1751.6 564.5h6.7v3.3h-6.7zM1758.3 561.2h10.0v3.3h-10.0zM1768.3 557.9h6.7v3.3h-6.7zM1775.0 554.5h10.0v3.3h-10.0zM1785.0 551.2h6.7v3.3h-6.7zM1791.6 547.9h6.7v3.3h-6.7zM1798.3 544.6h10.0v3.3h-10.0zM1808.3 541.2h6.7v3.3h-6.7zM1814.9 537.9h10.0v3.3h-10.0zM1824.9 534.6h6.7v3.3h-6.7zM1831.6 531.2h6.7v3.3h-6.7zM1838.3 527.9h10.0v3.3h-10.0zM1848.3 524.6h6.7v3.3h-6.7zM1854.9 521.2h10.0v3.3h-10.0zM1864.9 517.9h6.7v3.3h-6.7zM1871.6 514.6h6.7v3.3h-6.7zM1878.2 511.2h10.0v3.3h-10.0zM1888.2 507.9h6.7v3.3h-6.7zM1894.9 504.6h10.0v3.3h-10.0zM1904.9 501.2h6.7v3.3h-6.7zM1911.6 497.9h6.7v3.3h-6.7zM1918.2 494.6h10.0v3.3h-10.0zM1928.2 491.2h6.7v3.3h-6.7zM1934.9 487.9h10.0v3.3h-10.0zM1944.9 484.6h6.7v3.3h-6.7zM1951.5 481.3h6.7v3.3h-6.7zM1958.2 477.9h10.0v3.3h-10.0zM1968.2 474.6h6.7v3.3h-6.7zM1974.9 471.3h10.0v3.3h-10.0zM1984.9 467.9h6.7v3.3h-6.7zM1991.5 464.6h6.7v3.3h-6.7zM1998.2 461.3h10.0v3.3h-10.0zM2008.2 457.9h6.7v3.3h-6.7zM2014.8 454.6h10.0v3.3h-10.0zM2024.8 451.3h6.7v3.3h-6.7zM2031.5 447.9h6.7v3.3h-6.7zM2038.2 444.6h10.0v3.3h-10.0zM2048.1 441.3h6.7v3.3h-6.7zM2054.8 437.9h10.0v3.3h-10.0zM2064.8 434.6h6.7v3.3h-6.7zM2071.5 431.3h6.7v3.3h-6.7zM2078.1 428.0h10.0v3.3h-10.0zM2088.1 424.6h6.7v3.3h-6.7zM2094.8 421.3h10.0v3.3h-10.0zM2104.8 418.0h6.7v3.3h-6.7zM2111.4 414.6h6.7v3.3h-6.7zM2118.1 411.3h10.0v3.3h-10.0zM2128.1 408.0h6.7v3.3h-6.7zM2134.8 404.6h10.0v3.3h-10.0zM2144.8 401.3h6.7v3.3h-6.7zM2151.4 398.0h6.7v3.3h-6.7zM2158.1 394.6h10.0v3.3h-10.0zM2168.1 391.3h6.7v3.3h-6.7zM2174.7 388.0h10.0v3.3h-10.0zM2184.7 384.6h6.7v3.3h-6.7zM2191.4 381.3h6.7v3.3h-6.7zM2198.1 378.0h10.0v3.3h-10.0zM2208.1 374.6h6.7v3.3h-6.7zM2214.7 371.3h10.0v3.3h-10.0zM2224.7 368.0h6.7v3.3h-6.7zM2231.4 364.7h10.0v3.3h-10.0zM2241.4 361.3h6.7v3.3h-6.7zM449.1 1036.3h20.0v3.7h-20.0zM445.8 1039.6h26.7v3.7h-26.7zM442.4 1043.0h33.3v3.7h-33.3zM439.1 1046.3h40.0v3.7h-40.0zM439.1 1049.6h40.0v3.7h-40.0zM439.1 1053.0h40.0v3.7h-40.0zM439.1 1056.3h40.0v3.7h-40.0zM439.1 1059.6h40.0v3.7h-40.0zM439.1 1063.0h40.0v3.7h-40.0zM442.4 1066.3h33.3v3.7h-33.3zM445.8 1069.6h26.7v3.7h-26.7zM449.1 1072.9h20.0v3.7h-20.0zM1044.9 838.0h20.0v3.7h-20.0zM1041.6 841.3h26.7v3.7h-26.7zM1038.2 844.7h33.3v3.7h-33.3zM1034.9 848.0h40.0v3.7h-40.0zM1034.9 851.3h40.0v3.7h-40.0zM1034.9 854.7h40.0v3.7h-40.0zM1034.9 858.0h40.0v3.7h-40.0zM1034.9 861.3h40.0v3.7h-40.0zM1034.9 864.7h40.0v3.7h-40.0zM1038.2 868.0h33.3v3.7h-33.3zM1041.6 871.3h26.7v3.7h-26.7zM1048.2 874.6h13.3v3.7h-13.3zM1647.9 585.8h6.7v3.7h-6.7zM1641.2 589.1h20.0v3.7h-20.0zM1637.9 592.5h26.7v3.7h-26.7zM1631.2 595.8h40.0v3.7h-40.0zM1631.2 599.1h40.0v3.7h-40.0zM1631.2 602.5h40.0v3.7h-40.0zM1631.2 605.8h40.0v3.7h-40.0zM1631.2 609.1h40.0v3.7h-40.0zM1631.2 612.5h40.0v3.7h-40.0zM1631.2 615.8h40.0v3.7h-40.0zM1631.2 619.1h40.0v3.7h-40.0zM1634.5 622.4h33.3v3.7h-33.3zM1641.2 625.8h20.0v3.7h-20.0zM1647.9 629.1h6.7v3.7h-6.7zM2244.0 337.9h6.7v3.7h-6.7zM2237.3 341.2h20.0v3.7h-20.0zM2230.6 344.6h33.3v3.7h-33.3zM2227.3 347.9h40.0v3.7h-40.0zM2227.3 351.2h40.0v3.7h-40.0zM2227.3 354.6h40.0v3.7h-40.0zM2227.3 357.9h40.0v3.7h-40.0zM2227.3 361.2h40.0v3.7h-40.0zM2227.3 364.6h40.0v3.7h-40.0zM2227.3 367.9h40.0v3.7h-40.0zM2230.6 371.2h33.3v3.7h-33.3zM2237.3 374.5h20.0v3.7h-20.0zM2244.0 377.9h6.7v3.7h-6.7z"/>
<path fill="#8e0000" d="M459.8 1005.2h3.3v3.3h-3.3zM463.1 1001.8h10.0v3.3h-10.0zM473.1 998.5h6.7v3.3h-6.7zM479.8 995.2h6.7v3.3h-6.7zM486.5 991.8h10.0v3.3h-10.0zM496.4 988.5h6.7v3.3h-6.7zM503.1 985.2h10.0v3.3h-10.0zM513.1 981.8h6.7v3.3h-6.7zM519.8 978.5h6.7v3.3h-6.7zM526.4 975.2h10.0v3.3h-10.0zM536.4 971.8h6.7v3.3h-6.7zM543.1 968.5h10.0v3.3h-10.0zM553.1 965.2h6.7v3.3h-6.7zM559.7 961.8h6.7v3.3h-6.7zM566.4 958.5h10.0v3.3h-10.0zM576.4 955.2h6.7v3.3h-6.7zM583.1 951.9h10.0v3.3h-10.0zM593.1 948.5h6.7v3.3h-6.7zM599.7 945.2h6.7v3.3h-6.7zM606.4 941.9h10.0v3.3h-10.0zM616.4 938.5h6.7v3.3h-6.7zM623.0 935.2h10.0v3.3h-10.0zM633.0 931.9h6.7v3.3h-6.7zM639.7 928.5h6.7v3.3h-6.7zM646.4 925.2h10.0v3.3h-10.0zM656.4 921.9h6.7v3.3h-6.7zM663.0 918.5h10.0v3.3h-10.0zM673.0 915.2h6.7v3.3h-6.7zM679.7 911.9h6.7v3.3h-6.7zM686.3 908.5h10.0v3.3h-10.0zM696.3 905.2h6.7v3.3h-6.7zM703.0 901.9h10.0v3.3h-10.0zM713.0 898.5h6.7v3.3h-6.7zM719.7 895.2h6.7v3.3h-6.7zM726.3 891.9h10.0v3.3h-10.0zM736.3 888.6h6.7v3.3h-6.7zM743.0 885.2h10.0v3.3h-10.0zM753.0 881.9h6.7v3.3h-6.7zM759.6 878.6h6.7v3.3h-6.7zM766.3 875.2h10.0v3.3h-10.0zM776.3 871.9h6.7v3.3h-6.7zM783.0 868.6h10.0v3.3h-10.0zM793.0 865.2h6.7v3.3h-6.7zM799.6 861.9h6.7v3.3h-6.7zM806.3 858.6h10.0v3.3h-10.0zM816.3 855.2h6.7v3.3h-6.7zM822.9 851.9h10.0v3.3h-10.0zM832.9 848.6h6.7v3.3h-6.7zM839.6 845.2h6.7v3.3h-6.7zM846.3 841.9h10.0v3.3h-10.0zM856.2 838.6h6.7v3.3h-6.7zM862.9 835.2h10.0v3.3h-10.0zM872.9 831.9h6.7v3.3h-6.7zM879.6 828.6h6.7v3.3h-6.7zM886.2 825.3h10.0v3.3h-10.0zM896.2 821.9h6.7v3.3h-6.7zM902.9 818.6h10.0v3.3h-10.0zM912.9 815.3h6.7v3.3h-6.7zM919.5 811.9h6.7v3.3h-6.7zM926.2 808.6h10.0v3.3h-10.0zM936.2 805.3h6.7v3.3h-6.7zM942.9 801.9h10.0v3.3h-10.0zM952.9 798.6h6.7v3.3h-6.7zM959.5 795.3h6.7v3.3h-6.7zM966.2 791.9h10.0v3.3h-10.0zM976.2 788.6h6.7v3.3h-6.7zM982.8 785.3h10.0v3.3h-10.0zM992.8 781.9h6.7v3.3h-6.7zM999.5 778.6h6.7v3.3h-6.7zM1006.2 775.3h10.0v3.3h-10.0zM1016.2 771.9h6.7v3.3h-6.7zM1022.8 768.6h10.0v3.3h-10.0zM1032.8 765.3h6.7v3.3h-6.7zM1039.5 762.0h6.7v3.3h-6.7zM1046.1 758.6h10.0v3.3h-10.0zM1055.9 756.8h3.3v3.3h-3.3zM1059.2 753.5h10.0v3.3h-10.0zM1069.2 750.2h6.7v3.3h-6.7zM1075.9 746.8h6.7v3.3h-6.7zM1082.6 743.5h10.0v3.3h-10.0zM1092.5 740.2h6.7v3.3h-6.7zM1099.2 736.8h10.0v3.3h-10.0zM1109.2 733.5h6.7v3.3h-6.7zM1115.9 730.2h6.7v3.3h-6.7zM1122.5 726.8h10.0v3.3h-10.0zM1132.5 723.5h6.7v3.3h-6.7zM1139.2 720.2h10.0v3.3h-10.0zM1149.2 716.8h6.7v3.3h-6.7zM1155.8 713.5h6.7v3.3h-6.7zM1162.5 710.2h10.0v3.3h-10.0zM1172.5 706.8h6.7v3.3h-6.7zM1179.2 703.5h10.0v3.3h-10.0zM1189.2 700.2h6.7v3.3h-6.7zM1195.8 696.9h6.7v3.3h-6.7zM1202.5 693.5h10.0v3.3h-10.0zM1212.5 690.2h6.7v3.3h-6.7zM1219.1 686.9h10.0v3.3h-10.0zM1229.1 683.5h6.7v3.3h-6.7zM1235.8 680.2h6.7v3.3h-6.7zM1242.5 676.9h10.0v3.3h-10.0zM1252.5 673.5h6.7v3.3h-6.7zM1259.1 670.2h10.0v3.3h-10.0zM1269.1 666.9h6.7v3.3h-6.7zM1275.8 663.5h6.7v3.3h-6.7zM1282.4 660.2h10.0v3.3h-10.0zM1292.4 656.9h6.7v3.3h-6.7zM1299.1 653.5h10.0v3.3h-10.0zM1309.1 650.2h6.7v3.3h-6.7zM1315.8 646.9h6.7v3.3h-6.7zM1322.4 643.6h10.0v3.3h-10.0zM1332.4 640.2h6.7v3.3h-6.7zM1339.1 636.9h10.0v3.3h-10.0zM1349.1 633.6h6.7v3.3h-6.7zM1355.7 630.2h6.7v3.3h-6.7zM1362.4 626.9h10.0v3.3h-10.0zM1372.4 623.6h6.7v3.3h-6.7zM1379.1 620.2h10.0v3.3h-10.0zM1389.1 616.9h6.7v3.3h-6.7zM1395.7 613.6h6.7v3.3h-6.7zM1402.4 610.2h10.0v3.3h-10.0zM1412.4 606.9h6.7v3.3h-6.7zM1419.0 603.6h10.0v3.3h-10.0zM1429.0 600.2h6.7v3.3h-6.7zM1435.7 596.9h6.7v3.3h-6.7zM1442.4 593.6h10.0v3.3h-10.0zM1452.3 590.2h6.7v3.3h-6.7zM1459.0 586.9h10.0v3.3h-10.0zM1469.0 583.6h6.7v3.3h-6.7zM1475.7 580.3h6.7v3.3h-6.7zM1482.3 576.9h10.0v3.3h-10.0zM1492.3 573.6h6.7v3.3h-6.7zM1499.0 570.3h10.0v3.3h-10.0zM1509.0 566.9h6.7v3.3h-6.7zM1515.6 563.6h6.7v3.3h-6.7zM1522.3 560.3h10.0v3.3h-10.0zM1532.3 556.9h6.7v3.3h-6.7zM1539.0 553.6h10.0v3.3h-10.0zM1549.0 550.3h6.7v3.3h-6.7zM1555.6 546.9h6.7v3.3h-6.7zM1562.3 543.6h10.0v3.3h-10.0zM1572.3 540.3h6.7v3.3h-6.7zM1578.9 536.9h10.0v3.3h-10.0zM1588.9 533.6h6.7v3.3h-6.7zM1595.6 530.3h6.7v3.3h-6.7zM1602.3 526.9h10.0v3.3h-10.0zM1612.3 523.6h6.7v3.3h-6.7zM1618.9 520.3h10.0v3.3h-10.0zM1628.9 517.0h6.7v3.3h-6.7zM1635.6 513.6h6.7v3.3h-6.7zM1642.2 510.3h10.0v3.3h-10.0zM1651.7 508.6h3.3v3.3h-3.3zM1655.0 505.3h10.0v3.3h-10.0zM1665.0 502.0h10.0v3.3h-10.0zM1675.0 498.6h10.0v3.3h-10.0zM1685.0 495.3h10.0v3.3h-10.0zM1695.0 492.0h10.0v3.3h-10.0zM1705.0 488.6h10.0v3.3h-10.0zM1715.0 485.3h10.0v3.3h-10.0zM1725.0 482.0h10.0v3.3h-10.0zM1735.0 478.7h10.0v3.3h-10.0zM1745.0 475.3h10.0v3.3h-10.0zM1755.0 472.0h10.0v3.3h-10.0zM1765.0 468.7h10.0v3.3h-10.0zM1775.0 465.3h10.0v3.3h-10.0zM1785.0 462.0h10.0v3.3h-10.0zM1795.0 458.7h10.0v3.3h-10.0zM1804.9 455.3h10.0v3.3h-10.0zM1814.9 452.0h10.0v3.3h-10.0zM1824.9 448.7h10.0v3.3h-10.0zM1834.9 445.3h10.0v3.3h-10.0zM1844.9 442.0h10.0v3.3h-10.0zM1854.9 438.7h10.0v3.3h-10.0zM1864.9 435.3h10.0v3.3h-10.0zM1874.9 432.0h10.0v3.3h-10.0zM1884.9 428.7h10.0v3.3h-10.0zM1894.9 425.3h10.0v3.3h-10.0zM1904.9 422.0h10.0v3.3h-10.0zM1914.9 418.7h10.0v3.3h-10.0zM1924.9 415.4h10.0v3.3h-10.0zM1934.9 412.0h10.0v3.3h-10.0zM1944.9 408.7h10.0v3.3h-10.0zM1954.9 405.4h10.0v3.3h-10.0zM1964.9 402.0h10.0v3.3h-10.0zM1974.9 398.7h10.0v3.3h-10.0zM1984.9 395.4h10.0v3.3h-10.0zM1994.8 392.0h10.0v3.3h-10.0zM2004.8 388.7h10.0v3.3h-10.0zM2014.8 385.4h10.0v3.3h-10.0zM2024.8 382.0h10.0v3.3h-10.0zM2034.8 378.7h10.0v3.3h-10.0zM2044.8 375.4h10.0v3.3h-10.0zM2054.8 372.0h10.0v3.3h-10.0zM2064.8 368.7h10.0v3.3h-10.0zM2074.8 365.4h10.0v3.3h-10.0zM2084.8 362.1h10.0v3.3h-10.0zM2094.8 358.7h10.0v3.3h-10.0zM2104.8 355.4h10.0v3.3h-10.0zM2114.8 352.1h10.0v3.3h-10.0zM2124.8 348.7h10.0v3.3h-10.0zM2134.8 345.4h10.0v3.3h-10.0zM2144.8 342.1h10.0v3.3h-10.0zM2154.8 338.7h10.0v3.3h-10.0zM2164.8 335.4h10.0v3.3h-10.0zM2174.7 332.1h10.0v3.3h-10.0zM2184.7 328.7h10.0v3.3h-10.0zM2194.7 325.4h10.0v3.3h-10.0zM2204.7 322.1h10.0v3.3h-10.0zM2214.7 318.7h10.0v3.3h-10.0zM2224.7 315.4h10.0v3.3h-10.0zM2234.7 312.1h10.0v3.3h-10.0zM2244.7 308.7h3.3v3.3h-3.3zM459.1 986.6h3.3v3.7h-3.3zM455.8 989.9h6.7v3.7h-6.7zM455.8 993.3h10.0v3.7h-10.0zM452.4 996.6h13.3v3.7h-13.3zM439.1 999.9h43.3v3.7h-43.3zM442.4 1003.3h36.6v3.7h-36.6zM445.8 1006.6h26.7v3.7h-26.7zM449.1 1009.9h23.3v3.7h-23.3zM449.1 1013.3h23.3v3.7h-23.3zM449.1 1016.6h10.0v3.7h-10.0zM462.4 1016.6h10.0v3.7h-10.0zM445.8 1019.9h6.7v3.7h-6.7zM469.1 1019.9h3.3v3.7h-3.3zM1054.9 741.8h3.3v3.7h-3.3zM1051.6 745.1h10.0v3.7h-10.0zM1051.6 748.5h10.0v3.7h-10.0zM1048.2 751.8h16.7v3.7h-16.7zM1034.9 755.1h43.3v3.7h-43.3zM1038.2 758.5h36.6v3.7h-36.6zM1044.9 761.8h23.3v3.7h-23.3zM1044.9 765.1h23.3v3.7h-23.3zM1044.9 768.5h23.3v3.7h-23.3zM1044.9 771.8h10.0v3.7h-10.0zM1058.2 771.8h10.0v3.7h-10.0zM1041.6 775.1h6.7v3.7h-6.7zM1064.9 775.1h6.7v3.7h-6.7zM1647.9 492.3h3.3v3.7h-3.3zM1647.9 495.6h6.7v3.7h-6.7zM1644.5 499.0h13.3v3.7h-13.3zM1631.2 502.3h40.0v3.7h-40.0zM1634.5 505.6h33.3v3.7h-33.3zM1637.9 509.0h26.7v3.7h-26.7zM1641.2 512.3h20.0v3.7h-20.0zM1641.2 515.6h20.0v3.7h-20.0zM1637.9 519.0h6.7v3.7h-6.7zM1654.5 519.0h10.0v3.7h-10.0zM1637.9 522.3h3.3v3.7h-3.3zM1661.2 522.3h3.3v3.7h-3.3zM2244.0 291.9h3.3v3.7h-3.3zM2244.0 295.2h6.7v3.7h-6.7zM2244.0 298.6h6.7v3.7h-6.7zM2240.6 301.9h13.3v3.7h-13.3zM2227.3 305.2h40.0v3.7h-40.0zM2230.6 308.6h33.3v3.7h-33.3zM2234.0 311.9h23.3v3.7h-23.3zM2237.3 315.2h20.0v3.7h-20.0zM2237.3 318.6h20.0v3.7h-20.0zM2234.0 321.9h10.0v3.7h-10.0zM2250.6 321.9h10.0v3.7h-10.0zM2234.0 325.2h3.3v3.7h-3.3zM2257.3 325.2h3.3v3.7h-3.3z"/>
<path fill="#808000" d="M1651.7 1602.3h6.7v3.3h-6.7zM1658.4 1599.0h43.3v3.3h-43.3zM1701.7 1595.7h43.3v3.3h-43.3zM1745.0 1592.3h43.3v3.3h-43.3zM1788.3 1589.0h43.3v3.3h-43.3zM1831.6 1585.7h43.3v3.3h-43.3zM1874.9 1582.3h43.3v3.3h-43.3zM1918.2 1579.0h43.3v3.3h-43.3zM1961.5 1575.7h46.6v3.3h-46.6zM2008.2 1572.3h43.3v3.3h-43.3zM2051.5 1569.0h43.3v3.3h-43.3zM2094.8 1565.7h43.3v3.3h-43.3zM2138.1 1562.4h43.3v3.3h-43.3zM2181.4 1559.0h43.3v3.3h-43.3zM2224.7 1555.7h23.3v3.3h-23.3zM456.0 1579.7h6.7v3.7h-6.7zM449.3 1583.0h20.0v3.7h-20.0zM446.0 1586.4h26.7v3.7h-26.7zM442.7 1589.7h33.3v3.7h-33.3zM436.0 1593.0h46.6v3.7h-46.6zM436.0 1596.4h46.6v3.7h-46.6zM436.0 1599.7h46.6v3.7h-46.6zM439.3 1603.0h40.0v3.7h-40.0zM439.3 1606.4h40.0v3.7h-40.0zM439.3 1609.7h40.0v3.7h-40.0zM442.7 1613.0h33.3v3.7h-33.3zM442.7 1616.3h33.3v3.7h-33.3zM442.7 1619.7h33.3v3.7h-33.3zM1052.1 1579.7h6.7v3.7h-6.7zM1045.4 1583.0h20.0v3.7h-20.0zM1042.1 1586.4h26.7v3.7h-26.7zM1038.8 1589.7h33.3v3.7h-33.3zM1032.1 1593.0h46.6v3.7h-46.6zM1032.1 1596.4h46.6v3.7h-46.6zM1032.1 1599.7h46.6v3.7h-46.6zM1035.4 1603.0h40.0v3.7h-40.0zM1035.4 1606.4h40.0v3.7h-40.0zM1035.4 1609.7h40.0v3.7h-40.0zM1038.8 1613.0h33.3v3.7h-33.3zM1038.8 1616.3h33.3v3.7h-33.3zM1038.8 1619.7h33.3v3.7h-33.3zM1647.9 1579.7h6.7v3.7h-6.7zM1641.2 1583.0h20.0v3.7h-20.0zM1637.9 1586.4h26.7v3.7h-26.7zM1634.6 1589.7h33.3v3.7h-33.3zM1627.9 1593.0h46.6v3.7h-46.6zM1627.9 1596.4h46.6v3.7h-46.6zM1627.9 1599.7h46.6v3.7h-46.6zM1631.2 1603.0h40.0v3.7h-40.0zM1631.2 1606.4h40.0v3.7h-40.0zM1631.2 1609.7h40.0v3.7h-40.0zM1634.6 1613.0h33.3v3.7h-33.3zM1634.6 1616.3h33.3v3.7h-33.3zM1634.6 1619.7h33.3v3.7h-33.3zM2243.8 1536.8h6.7v3.7h-6.7zM2237.1 1540.1h20.0v3.7h-20.0zM2233.8 1543.5h26.7v3.7h-26.7zM2227.1 1546.8h40.0v3.7h-40.0zM2223.8 1550.1h46.6v3.7h-46.6zM2223.8 1553.5h46.6v3.7h-46.6zM2227.1 1556.8h40.0v3.7h-40.0zM2227.1 1560.1h40.0v3.7h-40.0zM2227.1 1563.5h40.0v3.7h-40.0zM2230.5 1566.8h33.3v3.7h-33.3zM2230.5 1570.1h33.3v3.7h-33.3zM2230.5 1573.4h33.3v3.7h-33.3z"/>
<path fill="#000000" d="M445.8 1465.4h29.7v3.3h-29.7zM445.8 1637.4h29.7v3.3h-29.7zM458.9 1467.1h3.3v70.6h-3.3zM458.9 1571.5h3.3v67.6h-3.3zM1634.5 1318.2h31.7v3.3h-31.7zM1634.5 1486.8h31.7v3.3h-31.7zM1651.0 1319.8h3.3v66.7h-3.3zM1651.0 1420.5h3.3v67.9h-3.3zM2230.6 1330.7h31.2v3.3h-31.2zM2230.6 1374.7h31.2v3.3h-31.2zM2247.0 1332.4h3.3v6.1h-3.3zM2247.0 1376.0h3.3v0.4h-3.3z"/>
<path fill="#ff0000" d="M445.8 1380.5h29.7v3.3h-29.7zM445.8 1427.0h29.7v3.3h-29.7zM458.9 1382.1h3.3v5.8h-3.3zM458.9 1422.4h3.3v6.2h-3.3zM1038.3 1380.7h33.2v3.3h-33.2zM1038.3 1426.5h33.2v3.3h-33.2zM1055.0 1382.3h3.3v5.7h-3.3zM1055.0 1422.6h3.3v5.5h-3.3zM1634.5 1267.7h31.7v3.3h-31.7zM1634.5 1437.2h31.7v3.3h-31.7zM1651.0 1269.4h3.3v67.8h-3.3zM1651.0 1372.5h3.3v66.4h-3.3z"/>
<path fill="#0000ff" d="M1038.3 1119.1h33.2v3.3h-33.2zM1038.3 1288.0h33.2v3.3h-33.2zM1055.0 1120.8h3.3v22.7h-3.3zM1055.0 1229.6h3.3v60.1h-3.3z"/>
<path fill="#ff00ff" d="M445.8 1119.1h29.7v3.3h-29.7zM445.8 1288.0h29.7v3.3h-29.7zM458.9 1120.8h3.3v58.6h-3.3zM458.9 1227.3h3.3v62.4h-3.3zM1038.3 1069.5h33.2v3.3h-33.2zM1038.3 1238.4h33.2v3.3h-33.2zM1055.0 1071.2h3.3v58.7h-3.3zM1055.0 1177.5h3.3v62.6h-3.3zM1634.5 970.5h31.7v3.3h-31.7zM1634.5 1139.2h31.7v3.3h-31.7zM1651.0 972.1h3.3v58.6h-3.3zM1651.0 1081.1h3.3v59.7h-3.3zM2230.6 970.3h31.2v3.3h-31.2zM2230.6 1139.0h31.2v3.3h-31.2zM2247.0 971.9h3.3v58.5h-3.3zM2247.0 1080.9h3.3v59.7h-3.3z"/>
<path fill="#008000" d="M1038.3 1082.9h33.2v3.3h-33.2zM1038.3 1126.1h33.2v3.3h-33.2z"/>
<path fill="#000080" d="M1055.0 1033.0h3.3v47.0h-3.3zM1634.5 897.6h31.7v3.3h-31.7zM1634.5 1112.9h31.7v3.3h-31.7zM1651.0 899.2h3.3v85.8h-3.3zM1651.0 1033.2h3.3v81.3h-3.3z"/>
<path fill="#8e00ff" d="M445.8 1082.7h29.7v3.3h-29.7zM445.8 1125.8h29.7v3.3h-29.7zM458.9 1084.4h3.3v1.1h-3.3zM1038.3 828.2h33.2v3.3h-33.2zM1038.3 983.5h33.2v3.3h-33.2zM1055.0 876.0h3.3v5.0h-3.3zM1055.0 855.0h3.3v5.0h-3.3zM1055.0 934.1h3.3v51.1h-3.3z"/>
<path fill="#930087" d="M445.8 976.8h29.7v3.3h-29.7zM445.8 1132.6h29.7v3.3h-29.7zM458.9 978.4h3.3v58.9h-3.3zM458.9 1075.3h3.3v58.9h-3.3zM1634.5 523.5h31.7v3.3h-31.7zM1634.5 692.1h31.7v3.3h-31.7zM1651.0 525.1h3.3v61.7h-3.3zM1651.0 631.9h3.3v61.8h-3.3zM2230.6 275.2h31.2v3.3h-31.2zM2230.6 444.3h31.2v3.3h-31.2zM2247.0 276.8h3.3v62.1h-3.3zM2247.0 380.2h3.3v65.7h-3.3z"/>
<path fill="#8e0000" d="M1038.3 678.9h33.2v3.3h-33.2zM1038.3 834.7h33.2v3.3h-33.2zM1055.0 680.6h3.3v63.0h-3.3zM1055.0 781.7h3.3v54.7h-3.3zM1634.5 487.1h31.7v3.3h-31.7zM1634.5 530.2h31.7v3.3h-31.7zM1651.0 488.8h3.3v5.3h-3.3zM1651.0 527.0h3.3v4.9h-3.3zM2230.6 231.9h31.2v3.3h-31.2zM2230.6 387.6h31.2v3.3h-31.2zM2247.0 233.6h3.3v60.1h-3.3zM2247.0 331.3h3.3v58.0h-3.3z"/>
<path fill="#808000" d="M2230.6 1469.8h31.2v3.3h-31.2zM2230.6 1641.1h31.2v3.3h-31.2zM2247.0 1471.5h3.3v66.3h-3.3zM2247.0 1579.6h3.3v63.2h-3.3z"/>
</g>
<path d="M286.7 1602.3h2132.5v3.3h-2132.5z"/>
<rect x="286.7" y="36.8" width="6.6" height="1565.5"/>
<rect x="2412.6" y="36.8" width="6.6" height="1565.5"/>
<g id="ticklabels" stroke="#fff" stroke-width="0.9">
<text transform="translate(237.0,1622.3) scale(1,1.065)" font-size="66.67" text-anchor="end">0</text>
<text transform="translate(237.0,1473.3) scale(1,1.065)" font-size="66.67" text-anchor="end">10</text>
<text transform="translate(237.0,1324.4) scale(1,1.065)" font-size="66.67" text-anchor="end">20</text>
<text transform="translate(237.0,1175.4) scale(1,1.065)" font-size="66.67" text-anchor="end">30</text>
<text transform="translate(237.0,1026.4) scale(1,1.065)" font-size="66.67" text-anchor="end">40</text>
<text transform="translate(237.0,877.5) scale(1,1.065)" font-size="66.67" text-anchor="end">50</text>
<text transform="translate(237.0,728.5) scale(1,1.065)" font-size="66.67" text-anchor="end">60</text>
<text transform="translate(237.0,579.5) scale(1,1.065)" font-size="66.67" text-anchor="end">70</text>
<text transform="translate(237.0,430.5) scale(1,1.065)" font-size="66.67" text-anchor="end">80</text>
<text transform="translate(237.0,281.6) scale(1,1.065)" font-size="66.67" text-anchor="end">90</text>
<text transform="translate(237.0,132.6) scale(1,1.065)" font-size="66.67" text-anchor="end">100</text>
<text transform="translate(458.5,1707.5) scale(1,1.065)" font-size="66.67" text-anchor="middle">7</text>
<text transform="translate(1054.8,1707.5) scale(1,1.065)" font-size="66.67" text-anchor="middle">14</text>
<text transform="translate(1646.5,1707.5) scale(1,1.065)" font-size="66.67" text-anchor="middle">21</text>
<text transform="translate(2246.7,1707.5) scale(1,1.065)" font-size="66.67" text-anchor="middle">28</text>
</g>
<g id="titles" stroke="#fff" stroke-width="0.5">
<text transform="translate(1191.5,1813.8) scale(1,1.020)" font-size="61.40" text-anchor="start">Time (days)</text>
<text transform="translate(74.7,1091) rotate(-90) scale(1,1.02)" font-size="61">Mortality (%<tspan fill="#777">±</tspan>sd)</text>
</g>
<g id="legend">
<path fill="#000000" d="M310.0 79.6h109.3v3.3h-109.3zM346.2 66.9h36.6v33.0h-36.6z"/>
<path fill="#ff0000" d="M310.0 142.6h109.3v3.3h-109.3zM356.1 125.9h16.7v3.7h-16.7zM349.4 129.2h30.0v3.7h-30.0zM349.4 132.6h30.0v3.7h-30.0zM346.1 135.9h36.6v3.7h-36.6zM346.1 139.2h36.6v3.7h-36.6zM346.1 142.6h36.6v3.7h-36.6zM346.1 145.9h36.6v3.7h-36.6zM346.1 149.2h36.6v3.7h-36.6zM349.4 152.6h30.0v3.7h-30.0zM349.4 155.9h30.0v3.7h-30.0zM356.1 159.2h16.7v3.7h-16.7z"/>
<path fill="#0000ff" d="M310.0 202.3h109.3v3.3h-109.3zM363.7 179.9h3.3v3.7h-3.3zM360.4 183.2h6.7v3.7h-6.7zM360.4 186.6h10.0v3.7h-10.0zM357.1 189.9h16.7v3.7h-16.7zM353.7 193.2h20.0v3.7h-20.0zM353.7 196.6h23.3v3.7h-23.3zM350.4 199.9h30.0v3.7h-30.0zM347.1 203.2h33.3v3.7h-33.3zM347.1 206.6h36.6v3.7h-36.6zM343.7 209.9h43.3v3.7h-43.3zM340.4 213.2h46.6v3.7h-46.6zM340.4 216.5h50.0v3.7h-50.0z"/>
<path fill="#ff00ff" d="M310.0 261.7h109.3v3.3h-109.3zM343.7 249.0h43.3v3.7h-43.3zM343.7 252.3h40.0v3.7h-40.0zM347.0 255.7h36.6v3.7h-36.6zM347.0 259.0h33.3v3.7h-33.3zM350.4 262.3h30.0v3.7h-30.0zM350.4 265.7h26.7v3.7h-26.7zM353.7 269.0h23.3v3.7h-23.3zM353.7 272.3h20.0v3.7h-20.0zM357.0 275.7h16.7v3.7h-16.7zM360.4 279.0h10.0v3.7h-10.0zM360.4 282.3h6.7v3.7h-6.7zM363.7 285.6h3.3v3.7h-3.3zM363.7 289.0h3.3v3.7h-3.3z"/>
<path fill="#008000" d="M310.0 321.3h109.3v3.3h-109.3zM363.0 301.8h3.3v3.7h-3.3zM359.7 305.1h10.0v3.7h-10.0zM356.4 308.5h16.7v3.7h-16.7zM353.0 311.8h23.3v3.7h-23.3zM349.7 315.1h30.0v3.7h-30.0zM346.4 318.5h36.6v3.7h-36.6zM343.0 321.8h43.3v3.7h-43.3zM339.7 325.1h50.0v3.7h-50.0zM343.0 328.5h43.3v3.7h-43.3zM346.4 331.8h36.6v3.7h-36.6zM349.7 335.1h30.0v3.7h-30.0zM353.0 338.4h23.3v3.7h-23.3zM356.4 341.8h16.7v3.7h-16.7zM359.7 345.1h10.0v3.7h-10.0zM363.0 348.4h3.3v3.7h-3.3z"/>
<path fill="#000080" d="M310.0 384.1h109.3v3.3h-109.3zM374.0 362.2h6.7v3.7h-6.7zM367.4 365.5h13.3v3.7h-13.3zM364.0 368.9h16.7v3.7h-16.7zM357.4 372.2h23.3v3.7h-23.3zM350.7 375.5h30.0v3.7h-30.0zM347.4 378.9h33.3v3.7h-33.3zM340.7 382.2h40.0v3.7h-40.0zM344.0 385.5h36.6v3.7h-36.6zM350.7 388.9h30.0v3.7h-30.0zM354.0 392.2h26.7v3.7h-26.7zM360.7 395.5h20.0v3.7h-20.0zM367.4 398.8h13.3v3.7h-13.3zM370.7 402.2h10.0v3.7h-10.0zM377.3 405.5h3.3v3.7h-3.3z"/>
<path fill="#8e00ff" d="M310.0 443.6h109.3v3.3h-109.3zM349.6 424.9h6.7v3.7h-6.7zM349.6 428.2h10.0v3.7h-10.0zM349.6 431.6h16.7v3.7h-16.7zM349.6 434.9h23.3v3.7h-23.3zM349.6 438.2h30.0v3.7h-30.0zM349.6 441.6h36.6v3.7h-36.6zM349.6 444.9h36.6v3.7h-36.6zM349.6 448.2h30.0v3.7h-30.0zM349.6 451.6h26.7v3.7h-26.7zM349.6 454.9h20.0v3.7h-20.0zM349.6 458.2h13.3v3.7h-13.3zM349.6 461.5h6.7v3.7h-6.7zM349.6 464.9h3.3v3.7h-3.3z"/>
<path fill="#930087" d="M310.0 503.2h109.3v3.3h-109.3zM359.6 483.6h10.0v3.7h-10.0zM352.9 486.9h20.0v3.7h-20.0zM349.6 490.3h30.0v3.7h-30.0zM342.9 493.6h43.3v3.7h-43.3zM342.9 496.9h43.3v3.7h-43.3zM342.9 500.3h43.3v3.7h-43.3zM342.9 503.6h43.3v3.7h-43.3zM342.9 506.9h43.3v3.7h-43.3zM342.9 510.3h43.3v3.7h-43.3zM342.9 513.6h43.3v3.7h-43.3zM342.9 516.9h43.3v3.7h-43.3zM349.6 520.2h30.0v3.7h-30.0zM352.9 523.6h20.0v3.7h-20.0zM359.6 526.9h10.0v3.7h-10.0z"/>
<path fill="#8e0000" d="M310.0 563.0h109.3v3.3h-109.3zM362.9 543.2h3.3v3.7h-3.3zM362.9 546.5h3.3v3.7h-3.3zM359.6 549.9h10.0v3.7h-10.0zM359.6 553.2h10.0v3.7h-10.0zM349.6 556.5h30.0v3.7h-30.0zM342.9 559.9h43.3v3.7h-43.3zM346.2 563.2h36.6v3.7h-36.6zM349.6 566.5h30.0v3.7h-30.0zM352.9 569.9h23.3v3.7h-23.3zM352.9 573.2h23.3v3.7h-23.3zM352.9 576.5h23.3v3.7h-23.3zM352.9 579.8h6.7v3.7h-6.7zM369.6 579.8h6.7v3.7h-6.7zM349.6 583.2h6.7v3.7h-6.7zM372.9 583.2h6.7v3.7h-6.7z"/>
<path fill="#808000" d="M310.0 625.9h109.3v3.3h-109.3zM359.6 603.0h10.0v3.7h-10.0zM356.2 606.3h16.7v3.7h-16.7zM352.9 609.7h23.3v3.7h-23.3zM346.2 613.0h33.3v3.7h-33.3zM342.9 616.3h43.3v3.7h-43.3zM342.9 619.7h43.3v3.7h-43.3zM342.9 623.0h43.3v3.7h-43.3zM346.2 626.3h36.6v3.7h-36.6zM346.2 629.7h36.6v3.7h-36.6zM346.2 633.0h36.6v3.7h-36.6zM349.6 636.3h30.0v3.7h-30.0zM349.6 639.6h30.0v3.7h-30.0zM349.6 643.0h30.0v3.7h-30.0z"/>
</g>
<g id="legendtext" stroke="#fff" stroke-width="0.9">
<text transform="translate(430.7,99.5) scale(1,1.040)" font-size="50.00" text-anchor="start">250</text>
<text transform="translate(430.7,159.1) scale(1,1.040)" font-size="50.00" text-anchor="start">500</text>
<text transform="translate(430.7,218.5) scale(1,1.040)" font-size="50.00" text-anchor="start">1000</text>
<text transform="translate(430.7,278.5) scale(1,1.040)" font-size="50.00" text-anchor="start">1250</text>
<text transform="translate(430.7,340.9) scale(1,1.040)" font-size="50.00" text-anchor="start">1500</text>
<text transform="translate(430.7,400.8) scale(1,1.040)" font-size="50.00" text-anchor="start">2000</text>
<text transform="translate(430.7,460.6) scale(1,1.040)" font-size="50.00" text-anchor="start">2250</text>
<text transform="translate(430.7,520.0) scale(1,1.040)" font-size="50.00" text-anchor="start">2500</text>
<text transform="translate(430.7,582.3) scale(1,1.040)" font-size="50.00" text-anchor="start">3000</text>
<text transform="translate(430.7,642.2) scale(1,1.040)" font-size="50.00" text-anchor="start">control</text>
</g>
</svg></body></html>
